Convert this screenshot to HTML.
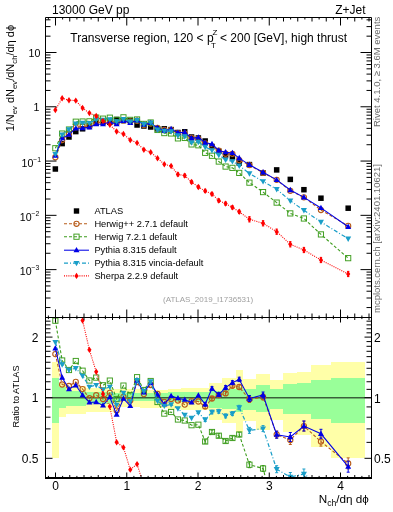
<!DOCTYPE html>
<html><head><meta charset="utf-8"><style>html,body{margin:0;padding:0;background:#fff;width:393px;height:512px;overflow:hidden} svg{will-change:transform}</style></head>
<body><svg width="393" height="512" viewBox="0 0 393 512" style="display:block">
<rect width="393" height="512" fill="#fff"/>
<clipPath id="cr"><rect x="45.5" y="317.5" width="326.0" height="160.0"/></clipPath>
<clipPath id="cm"><rect x="45.5" y="17.5" width="326.0" height="300.0"/></clipPath>
<g shape-rendering="crispEdges"><rect x="51.60" y="362" width="7.49" height="96.40" fill="#ffff99" fill-opacity="0.85"/><rect x="59.10" y="382.8" width="6.47" height="34.60" fill="#ffff99" fill-opacity="0.85"/><rect x="65.56" y="386" width="20.43" height="28.40" fill="#ffff99" fill-opacity="0.85"/><rect x="86.00" y="387.5" width="27.24" height="24.50" fill="#ffff99" fill-opacity="0.85"/><rect x="113.23" y="389.3" width="27.24" height="17.30" fill="#ffff99" fill-opacity="0.85"/><rect x="140.47" y="389.6" width="27.24" height="17.90" fill="#ffff99" fill-opacity="0.85"/><rect x="167.72" y="389" width="13.62" height="20.00" fill="#ffff99" fill-opacity="0.85"/><rect x="181.34" y="388.2" width="13.62" height="21.40" fill="#ffff99" fill-opacity="0.85"/><rect x="194.95" y="387.6" width="13.62" height="22.40" fill="#ffff99" fill-opacity="0.85"/><rect x="208.57" y="382.6" width="13.62" height="37.40" fill="#ffff99" fill-opacity="0.85"/><rect x="222.19" y="378" width="13.62" height="45.00" fill="#ffff99" fill-opacity="0.85"/><rect x="235.81" y="370.4" width="6.81" height="61.60" fill="#ffff99" fill-opacity="0.85"/><rect x="242.62" y="379" width="13.62" height="41.50" fill="#ffff99" fill-opacity="0.85"/><rect x="256.25" y="374" width="13.62" height="55.50" fill="#ffff99" fill-opacity="0.85"/><rect x="269.87" y="379.9" width="13.62" height="40.10" fill="#ffff99" fill-opacity="0.85"/><rect x="283.49" y="373.1" width="13.62" height="59.10" fill="#ffff99" fill-opacity="0.85"/><rect x="297.11" y="371.6" width="13.62" height="63.20" fill="#ffff99" fill-opacity="0.85"/><rect x="310.72" y="365.4" width="20.43" height="82.00" fill="#ffff99" fill-opacity="0.85"/><rect x="331.16" y="362.3" width="34.05" height="95.30" fill="#ffff99" fill-opacity="0.85"/><rect x="51.60" y="377.7" width="7.49" height="45.10" fill="#99ff99"/><rect x="59.10" y="386.5" width="6.47" height="21.50" fill="#99ff99"/><rect x="65.56" y="391" width="20.43" height="15.00" fill="#99ff99"/><rect x="86.00" y="391.5" width="27.24" height="12.10" fill="#99ff99"/><rect x="113.23" y="392.8" width="27.24" height="8.60" fill="#99ff99"/><rect x="140.47" y="392.5" width="27.24" height="8.90" fill="#99ff99"/><rect x="167.72" y="392" width="13.62" height="9.50" fill="#99ff99"/><rect x="181.34" y="392" width="13.62" height="9.50" fill="#99ff99"/><rect x="194.95" y="392" width="13.62" height="10.00" fill="#99ff99"/><rect x="208.57" y="391" width="13.62" height="16.80" fill="#99ff99"/><rect x="222.19" y="388.7" width="13.62" height="20.60" fill="#99ff99"/><rect x="235.81" y="387.2" width="6.81" height="25.20" fill="#99ff99"/><rect x="242.62" y="388.8" width="13.62" height="21.20" fill="#99ff99"/><rect x="256.25" y="385.4" width="13.62" height="26.20" fill="#99ff99"/><rect x="269.87" y="388.5" width="13.62" height="20.50" fill="#99ff99"/><rect x="283.49" y="383.9" width="13.62" height="29.70" fill="#99ff99"/><rect x="297.11" y="383.3" width="13.62" height="30.90" fill="#99ff99"/><rect x="310.72" y="380.2" width="20.43" height="39.10" fill="#99ff99"/><rect x="331.16" y="378.3" width="34.05" height="44.30" fill="#99ff99"/></g>
<line x1="45.5" y1="397.7" x2="371.5" y2="397.7" stroke="#000" stroke-opacity="0.62" stroke-width="1.4"/>
<g clip-path="url(#cm)"><rect x="52.60" y="166.25" width="5.5" height="5.5" fill="#000"/><rect x="59.41" y="140.85" width="5.5" height="5.5" fill="#000"/><rect x="66.22" y="134.25" width="5.5" height="5.5" fill="#000"/><rect x="73.03" y="128.85" width="5.5" height="5.5" fill="#000"/><rect x="79.84" y="126.05" width="5.5" height="5.5" fill="#000"/><rect x="86.65" y="123.25" width="5.5" height="5.5" fill="#000"/><rect x="93.46" y="120.25" width="5.5" height="5.5" fill="#000"/><rect x="100.27" y="119.25" width="5.5" height="5.5" fill="#000"/><rect x="107.08" y="119.55" width="5.5" height="5.5" fill="#000"/><rect x="113.89" y="116.75" width="5.5" height="5.5" fill="#000"/><rect x="120.70" y="117.85" width="5.5" height="5.5" fill="#000"/><rect x="127.51" y="117.85" width="5.5" height="5.5" fill="#000"/><rect x="134.32" y="122.25" width="5.5" height="5.5" fill="#000"/><rect x="141.13" y="123.25" width="5.5" height="5.5" fill="#000"/><rect x="147.94" y="124.25" width="5.5" height="5.5" fill="#000"/><rect x="154.75" y="126.05" width="5.5" height="5.5" fill="#000"/><rect x="161.56" y="126.05" width="5.5" height="5.5" fill="#000"/><rect x="168.37" y="126.85" width="5.5" height="5.5" fill="#000"/><rect x="175.18" y="129.75" width="5.5" height="5.5" fill="#000"/><rect x="181.99" y="129.05" width="5.5" height="5.5" fill="#000"/><rect x="188.80" y="134.25" width="5.5" height="5.5" fill="#000"/><rect x="195.61" y="135.25" width="5.5" height="5.5" fill="#000"/><rect x="202.42" y="138.25" width="5.5" height="5.5" fill="#000"/><rect x="209.23" y="143.75" width="5.5" height="5.5" fill="#000"/><rect x="216.04" y="148.55" width="5.5" height="5.5" fill="#000"/><rect x="222.85" y="152.15" width="5.5" height="5.5" fill="#000"/><rect x="229.66" y="154.25" width="5.5" height="5.5" fill="#000"/><rect x="236.47" y="160.25" width="5.5" height="5.5" fill="#000"/><rect x="246.68" y="161.85" width="5.5" height="5.5" fill="#000"/><rect x="260.31" y="170.25" width="5.5" height="5.5" fill="#000"/><rect x="273.93" y="167.15" width="5.5" height="5.5" fill="#000"/><rect x="287.55" y="176.65" width="5.5" height="5.5" fill="#000"/><rect x="301.17" y="186.95" width="5.5" height="5.5" fill="#000"/><rect x="318.19" y="195.45" width="5.5" height="5.5" fill="#000"/><rect x="345.43" y="205.45" width="5.5" height="5.5" fill="#000"/><polyline points="55.35,157.25 62.16,140.04 68.97,133.85 75.78,127.34 82.59,126.48 89.40,126.13 96.21,122.33 103.02,122.35 109.83,120.98 116.64,122.95 123.45,120.41 130.26,121.35 137.07,120.77 143.88,125.03 150.69,123.58 157.50,127.78 164.31,129.96 171.12,129.92 177.93,133.25 184.74,133.66 191.55,137.94 198.36,139.02 205.17,143.40 211.98,146.72 218.79,150.57 225.60,153.74 232.41,153.79 239.22,160.12 249.43,165.09 263.06,172.81 276.68,179.85 290.30,190.80 303.92,197.36 320.94,210.04 348.18,225.91" fill="none" stroke="#b85c1a" stroke-width="1.1" stroke-dasharray="3,2"/><circle cx="55.35" cy="157.25" r="2.6" fill="none" stroke="#b85c1a" stroke-width="1.1"/><circle cx="62.16" cy="140.04" r="2.6" fill="none" stroke="#b85c1a" stroke-width="1.1"/><circle cx="68.97" cy="133.85" r="2.6" fill="none" stroke="#b85c1a" stroke-width="1.1"/><circle cx="75.78" cy="127.34" r="2.6" fill="none" stroke="#b85c1a" stroke-width="1.1"/><circle cx="82.59" cy="126.48" r="2.6" fill="none" stroke="#b85c1a" stroke-width="1.1"/><circle cx="89.40" cy="126.13" r="2.6" fill="none" stroke="#b85c1a" stroke-width="1.1"/><circle cx="96.21" cy="122.33" r="2.6" fill="none" stroke="#b85c1a" stroke-width="1.1"/><circle cx="103.02" cy="122.35" r="2.6" fill="none" stroke="#b85c1a" stroke-width="1.1"/><circle cx="109.83" cy="120.98" r="2.6" fill="none" stroke="#b85c1a" stroke-width="1.1"/><circle cx="116.64" cy="122.95" r="2.6" fill="none" stroke="#b85c1a" stroke-width="1.1"/><circle cx="123.45" cy="120.41" r="2.6" fill="none" stroke="#b85c1a" stroke-width="1.1"/><circle cx="130.26" cy="121.35" r="2.6" fill="none" stroke="#b85c1a" stroke-width="1.1"/><circle cx="137.07" cy="120.77" r="2.6" fill="none" stroke="#b85c1a" stroke-width="1.1"/><circle cx="143.88" cy="125.03" r="2.6" fill="none" stroke="#b85c1a" stroke-width="1.1"/><circle cx="150.69" cy="123.58" r="2.6" fill="none" stroke="#b85c1a" stroke-width="1.1"/><circle cx="157.50" cy="127.78" r="2.6" fill="none" stroke="#b85c1a" stroke-width="1.1"/><circle cx="164.31" cy="129.96" r="2.6" fill="none" stroke="#b85c1a" stroke-width="1.1"/><circle cx="171.12" cy="129.92" r="2.6" fill="none" stroke="#b85c1a" stroke-width="1.1"/><circle cx="177.93" cy="133.25" r="2.6" fill="none" stroke="#b85c1a" stroke-width="1.1"/><circle cx="184.74" cy="133.66" r="2.6" fill="none" stroke="#b85c1a" stroke-width="1.1"/><circle cx="191.55" cy="137.94" r="2.6" fill="none" stroke="#b85c1a" stroke-width="1.1"/><circle cx="198.36" cy="139.02" r="2.6" fill="none" stroke="#b85c1a" stroke-width="1.1"/><circle cx="205.17" cy="143.40" r="2.6" fill="none" stroke="#b85c1a" stroke-width="1.1"/><circle cx="211.98" cy="146.72" r="2.6" fill="none" stroke="#b85c1a" stroke-width="1.1"/><circle cx="218.79" cy="150.57" r="2.6" fill="none" stroke="#b85c1a" stroke-width="1.1"/><circle cx="225.60" cy="153.74" r="2.6" fill="none" stroke="#b85c1a" stroke-width="1.1"/><circle cx="232.41" cy="153.79" r="2.6" fill="none" stroke="#b85c1a" stroke-width="1.1"/><circle cx="239.22" cy="160.12" r="2.6" fill="none" stroke="#b85c1a" stroke-width="1.1"/><circle cx="249.43" cy="165.09" r="2.6" fill="none" stroke="#b85c1a" stroke-width="1.1"/><circle cx="263.06" cy="172.81" r="2.6" fill="none" stroke="#b85c1a" stroke-width="1.1"/><circle cx="276.68" cy="179.85" r="2.6" fill="none" stroke="#b85c1a" stroke-width="1.1"/><circle cx="290.30" cy="190.80" r="2.6" fill="none" stroke="#b85c1a" stroke-width="1.1"/><circle cx="303.92" cy="197.36" r="2.6" fill="none" stroke="#b85c1a" stroke-width="1.1"/><circle cx="320.94" cy="210.04" r="2.6" fill="none" stroke="#b85c1a" stroke-width="1.1"/><circle cx="348.18" cy="225.91" r="2.6" fill="none" stroke="#b85c1a" stroke-width="1.1"/><polyline points="55.35,148.24 62.16,133.57 68.97,129.53 75.78,121.71 82.59,121.52 89.40,121.36 96.21,117.58 103.02,118.66 109.83,117.69 116.64,119.85 123.45,117.34 130.26,119.87 137.07,119.47 143.88,123.92 150.69,122.50 157.50,129.96 164.31,133.09 171.12,133.46 177.93,138.38 184.74,137.95 191.55,144.41 198.36,145.28 205.17,152.81 211.98,155.75 218.79,161.54 225.60,166.57 232.41,167.86 239.22,172.92 249.43,182.66 263.06,192.09 276.68,202.60 290.30,213.40 303.92,218.49 320.94,234.41 348.18,258.16" fill="none" stroke="#3c9c1c" stroke-width="1.1" stroke-dasharray="3,2"/><rect x="52.75" y="145.64" width="5.2" height="5.2" fill="none" stroke="#3c9c1c" stroke-width="0.95"/><rect x="59.56" y="130.97" width="5.2" height="5.2" fill="none" stroke="#3c9c1c" stroke-width="0.95"/><rect x="66.37" y="126.93" width="5.2" height="5.2" fill="none" stroke="#3c9c1c" stroke-width="0.95"/><rect x="73.18" y="119.11" width="5.2" height="5.2" fill="none" stroke="#3c9c1c" stroke-width="0.95"/><rect x="79.99" y="118.92" width="5.2" height="5.2" fill="none" stroke="#3c9c1c" stroke-width="0.95"/><rect x="86.80" y="118.76" width="5.2" height="5.2" fill="none" stroke="#3c9c1c" stroke-width="0.95"/><rect x="93.61" y="114.98" width="5.2" height="5.2" fill="none" stroke="#3c9c1c" stroke-width="0.95"/><rect x="100.42" y="116.06" width="5.2" height="5.2" fill="none" stroke="#3c9c1c" stroke-width="0.95"/><rect x="107.23" y="115.09" width="5.2" height="5.2" fill="none" stroke="#3c9c1c" stroke-width="0.95"/><rect x="114.04" y="117.25" width="5.2" height="5.2" fill="none" stroke="#3c9c1c" stroke-width="0.95"/><rect x="120.85" y="114.74" width="5.2" height="5.2" fill="none" stroke="#3c9c1c" stroke-width="0.95"/><rect x="127.66" y="117.27" width="5.2" height="5.2" fill="none" stroke="#3c9c1c" stroke-width="0.95"/><rect x="134.47" y="116.87" width="5.2" height="5.2" fill="none" stroke="#3c9c1c" stroke-width="0.95"/><rect x="141.28" y="121.32" width="5.2" height="5.2" fill="none" stroke="#3c9c1c" stroke-width="0.95"/><rect x="148.09" y="119.90" width="5.2" height="5.2" fill="none" stroke="#3c9c1c" stroke-width="0.95"/><rect x="154.90" y="127.36" width="5.2" height="5.2" fill="none" stroke="#3c9c1c" stroke-width="0.95"/><rect x="161.71" y="130.49" width="5.2" height="5.2" fill="none" stroke="#3c9c1c" stroke-width="0.95"/><rect x="168.52" y="130.86" width="5.2" height="5.2" fill="none" stroke="#3c9c1c" stroke-width="0.95"/><rect x="175.33" y="135.78" width="5.2" height="5.2" fill="none" stroke="#3c9c1c" stroke-width="0.95"/><rect x="182.14" y="135.35" width="5.2" height="5.2" fill="none" stroke="#3c9c1c" stroke-width="0.95"/><rect x="188.95" y="141.81" width="5.2" height="5.2" fill="none" stroke="#3c9c1c" stroke-width="0.95"/><rect x="195.76" y="142.68" width="5.2" height="5.2" fill="none" stroke="#3c9c1c" stroke-width="0.95"/><rect x="202.57" y="150.21" width="5.2" height="5.2" fill="none" stroke="#3c9c1c" stroke-width="0.95"/><rect x="209.38" y="153.15" width="5.2" height="5.2" fill="none" stroke="#3c9c1c" stroke-width="0.95"/><rect x="216.19" y="158.94" width="5.2" height="5.2" fill="none" stroke="#3c9c1c" stroke-width="0.95"/><rect x="223.00" y="163.97" width="5.2" height="5.2" fill="none" stroke="#3c9c1c" stroke-width="0.95"/><rect x="229.81" y="165.26" width="5.2" height="5.2" fill="none" stroke="#3c9c1c" stroke-width="0.95"/><rect x="236.62" y="170.32" width="5.2" height="5.2" fill="none" stroke="#3c9c1c" stroke-width="0.95"/><rect x="246.83" y="180.06" width="5.2" height="5.2" fill="none" stroke="#3c9c1c" stroke-width="0.95"/><rect x="260.45" y="189.49" width="5.2" height="5.2" fill="none" stroke="#3c9c1c" stroke-width="0.95"/><rect x="274.07" y="200.00" width="5.2" height="5.2" fill="none" stroke="#3c9c1c" stroke-width="0.95"/><rect x="287.69" y="210.80" width="5.2" height="5.2" fill="none" stroke="#3c9c1c" stroke-width="0.95"/><rect x="301.31" y="215.89" width="5.2" height="5.2" fill="none" stroke="#3c9c1c" stroke-width="0.95"/><rect x="318.34" y="231.81" width="5.2" height="5.2" fill="none" stroke="#3c9c1c" stroke-width="0.95"/><rect x="345.58" y="255.56" width="5.2" height="5.2" fill="none" stroke="#3c9c1c" stroke-width="0.95"/><polyline points="55.35,155.68 62.16,138.15 68.97,134.65 75.78,128.26 82.59,128.13 89.40,127.27 96.21,124.16 103.02,124.08 109.83,122.17 116.64,124.06 123.45,120.87 130.26,122.81 137.07,120.39 143.88,124.57 150.69,122.96 157.50,127.96 164.31,130.58 171.12,129.11 177.93,132.63 184.74,132.34 191.55,138.27 198.36,137.38 205.17,142.78 211.98,144.02 218.79,150.49 225.60,152.18 232.41,152.96 239.22,158.07 249.43,164.82 263.06,172.27 276.68,179.88 290.30,190.00 303.92,197.33 320.94,207.93 348.18,226.80" fill="none" stroke="#0000e6" stroke-width="1.05"/><path d="M55.35,152.44L58.35,157.84L52.35,157.84Z" fill="#0000e6"/><path d="M62.16,134.91L65.16,140.31L59.16,140.31Z" fill="#0000e6"/><path d="M68.97,131.41L71.97,136.81L65.97,136.81Z" fill="#0000e6"/><path d="M75.78,125.02L78.78,130.42L72.78,130.42Z" fill="#0000e6"/><path d="M82.59,124.89L85.59,130.29L79.59,130.29Z" fill="#0000e6"/><path d="M89.40,124.03L92.40,129.43L86.40,129.43Z" fill="#0000e6"/><path d="M96.21,120.92L99.21,126.32L93.21,126.32Z" fill="#0000e6"/><path d="M103.02,120.84L106.02,126.24L100.02,126.24Z" fill="#0000e6"/><path d="M109.83,118.93L112.83,124.33L106.83,124.33Z" fill="#0000e6"/><path d="M116.64,120.82L119.64,126.22L113.64,126.22Z" fill="#0000e6"/><path d="M123.45,117.63L126.45,123.03L120.45,123.03Z" fill="#0000e6"/><path d="M130.26,119.57L133.26,124.97L127.26,124.97Z" fill="#0000e6"/><path d="M137.07,117.15L140.07,122.55L134.07,122.55Z" fill="#0000e6"/><path d="M143.88,121.33L146.88,126.73L140.88,126.73Z" fill="#0000e6"/><path d="M150.69,119.72L153.69,125.12L147.69,125.12Z" fill="#0000e6"/><path d="M157.50,124.72L160.50,130.12L154.50,130.12Z" fill="#0000e6"/><path d="M164.31,127.34L167.31,132.74L161.31,132.74Z" fill="#0000e6"/><path d="M171.12,125.87L174.12,131.27L168.12,131.27Z" fill="#0000e6"/><path d="M177.93,129.39L180.93,134.79L174.93,134.79Z" fill="#0000e6"/><path d="M184.74,129.10L187.74,134.50L181.74,134.50Z" fill="#0000e6"/><path d="M191.55,135.03L194.55,140.43L188.55,140.43Z" fill="#0000e6"/><path d="M198.36,134.14L201.36,139.54L195.36,139.54Z" fill="#0000e6"/><path d="M205.17,139.54L208.17,144.94L202.17,144.94Z" fill="#0000e6"/><path d="M211.98,140.78L214.98,146.18L208.98,146.18Z" fill="#0000e6"/><path d="M218.79,147.25L221.79,152.65L215.79,152.65Z" fill="#0000e6"/><path d="M225.60,148.94L228.60,154.34L222.60,154.34Z" fill="#0000e6"/><path d="M232.41,149.72L235.41,155.12L229.41,155.12Z" fill="#0000e6"/><path d="M239.22,154.83L242.22,160.23L236.22,160.23Z" fill="#0000e6"/><path d="M249.43,161.58L252.43,166.98L246.43,166.98Z" fill="#0000e6"/><path d="M263.06,169.03L266.06,174.43L260.06,174.43Z" fill="#0000e6"/><path d="M276.68,176.64L279.68,182.04L273.68,182.04Z" fill="#0000e6"/><path d="M290.30,186.76L293.30,192.16L287.30,192.16Z" fill="#0000e6"/><path d="M303.92,194.09L306.92,199.49L300.92,199.49Z" fill="#0000e6"/><path d="M320.94,204.69L323.94,210.09L317.94,210.09Z" fill="#0000e6"/><path d="M348.18,223.56L351.18,228.96L345.18,228.96Z" fill="#0000e6"/><polyline points="55.35,154.04 62.16,134.62 68.97,129.53 75.78,123.65 82.59,122.90 89.40,123.06 96.21,119.60 103.02,119.84 109.83,119.36 116.64,121.41 123.45,119.28 130.26,121.57 137.07,120.28 143.88,124.19 150.69,122.58 157.50,129.69 164.31,130.98 171.12,131.43 177.93,135.41 184.74,136.46 191.55,142.47 198.36,141.99 205.17,146.93 211.98,150.36 218.79,154.97 225.60,159.81 232.41,161.29 239.22,165.64 249.43,173.42 263.06,181.33 276.68,189.18 290.30,200.78 303.92,210.27 320.94,222.01 348.18,238.75" fill="none" stroke="#1a9ec8" stroke-width="1.2" stroke-dasharray="4,2,1,2"/><path d="M55.35,157.28L58.35,151.88L52.35,151.88Z" fill="#1a9ec8"/><path d="M62.16,137.86L65.16,132.46L59.16,132.46Z" fill="#1a9ec8"/><path d="M68.97,132.77L71.97,127.37L65.97,127.37Z" fill="#1a9ec8"/><path d="M75.78,126.89L78.78,121.49L72.78,121.49Z" fill="#1a9ec8"/><path d="M82.59,126.14L85.59,120.74L79.59,120.74Z" fill="#1a9ec8"/><path d="M89.40,126.30L92.40,120.90L86.40,120.90Z" fill="#1a9ec8"/><path d="M96.21,122.84L99.21,117.44L93.21,117.44Z" fill="#1a9ec8"/><path d="M103.02,123.08L106.02,117.68L100.02,117.68Z" fill="#1a9ec8"/><path d="M109.83,122.60L112.83,117.20L106.83,117.20Z" fill="#1a9ec8"/><path d="M116.64,124.65L119.64,119.25L113.64,119.25Z" fill="#1a9ec8"/><path d="M123.45,122.52L126.45,117.12L120.45,117.12Z" fill="#1a9ec8"/><path d="M130.26,124.81L133.26,119.41L127.26,119.41Z" fill="#1a9ec8"/><path d="M137.07,123.52L140.07,118.12L134.07,118.12Z" fill="#1a9ec8"/><path d="M143.88,127.43L146.88,122.03L140.88,122.03Z" fill="#1a9ec8"/><path d="M150.69,125.82L153.69,120.42L147.69,120.42Z" fill="#1a9ec8"/><path d="M157.50,132.93L160.50,127.53L154.50,127.53Z" fill="#1a9ec8"/><path d="M164.31,134.22L167.31,128.82L161.31,128.82Z" fill="#1a9ec8"/><path d="M171.12,134.67L174.12,129.27L168.12,129.27Z" fill="#1a9ec8"/><path d="M177.93,138.65L180.93,133.25L174.93,133.25Z" fill="#1a9ec8"/><path d="M184.74,139.70L187.74,134.30L181.74,134.30Z" fill="#1a9ec8"/><path d="M191.55,145.71L194.55,140.31L188.55,140.31Z" fill="#1a9ec8"/><path d="M198.36,145.23L201.36,139.83L195.36,139.83Z" fill="#1a9ec8"/><path d="M205.17,150.17L208.17,144.77L202.17,144.77Z" fill="#1a9ec8"/><path d="M211.98,153.60L214.98,148.20L208.98,148.20Z" fill="#1a9ec8"/><path d="M218.79,158.21L221.79,152.81L215.79,152.81Z" fill="#1a9ec8"/><path d="M225.60,163.05L228.60,157.65L222.60,157.65Z" fill="#1a9ec8"/><path d="M232.41,164.53L235.41,159.13L229.41,159.13Z" fill="#1a9ec8"/><path d="M239.22,168.88L242.22,163.48L236.22,163.48Z" fill="#1a9ec8"/><path d="M249.43,176.66L252.43,171.26L246.43,171.26Z" fill="#1a9ec8"/><path d="M263.06,184.57L266.06,179.17L260.06,179.17Z" fill="#1a9ec8"/><path d="M276.68,192.42L279.68,187.02L273.68,187.02Z" fill="#1a9ec8"/><path d="M290.30,204.02L293.30,198.62L287.30,198.62Z" fill="#1a9ec8"/><path d="M303.92,213.51L306.92,208.11L300.92,208.11Z" fill="#1a9ec8"/><path d="M320.94,225.25L323.94,219.85L317.94,219.85Z" fill="#1a9ec8"/><path d="M348.18,241.99L351.18,236.59L345.18,236.59Z" fill="#1a9ec8"/><polyline points="55.35,110.00 62.16,98.30 68.97,100.20 75.78,100.60 82.59,108.00 89.40,113.10 96.21,116.00 103.02,121.00 109.83,124.70 116.64,131.50 123.45,134.00 130.26,140.00 137.07,142.90 143.88,149.70 150.69,152.20 157.50,158.30 164.31,164.20 171.12,166.00 177.93,174.40 184.74,175.60 191.55,182.00 198.36,187.00 205.17,190.90 211.98,194.00 218.79,200.60 225.60,203.60 232.41,207.40 239.22,211.80 249.43,219.30 263.06,223.30 276.68,231.70 290.30,244.30 303.92,250.00 320.94,260.00 348.18,274.00" fill="none" stroke="#ff0000" stroke-width="1.1" stroke-dasharray="1,1.2"/><path d="M177.93,172.80V176.00M176.73,172.80h2.4M176.73,176.00h2.4" stroke="#ff0000" stroke-width="1" fill="none"/><path d="M184.74,174.00V177.20M183.54,174.00h2.4M183.54,177.20h2.4" stroke="#ff0000" stroke-width="1" fill="none"/><path d="M191.55,180.40V183.60M190.35,180.40h2.4M190.35,183.60h2.4" stroke="#ff0000" stroke-width="1" fill="none"/><path d="M198.36,185.40V188.60M197.16,185.40h2.4M197.16,188.60h2.4" stroke="#ff0000" stroke-width="1" fill="none"/><path d="M205.17,189.30V192.50M203.97,189.30h2.4M203.97,192.50h2.4" stroke="#ff0000" stroke-width="1" fill="none"/><path d="M211.98,192.40V195.60M210.78,192.40h2.4M210.78,195.60h2.4" stroke="#ff0000" stroke-width="1" fill="none"/><path d="M218.79,199.00V202.20M217.59,199.00h2.4M217.59,202.20h2.4" stroke="#ff0000" stroke-width="1" fill="none"/><path d="M225.60,202.00V205.20M224.40,202.00h2.4M224.40,205.20h2.4" stroke="#ff0000" stroke-width="1" fill="none"/><path d="M232.41,205.80V209.00M231.21,205.80h2.4M231.21,209.00h2.4" stroke="#ff0000" stroke-width="1" fill="none"/><path d="M239.22,210.20V213.40M238.02,210.20h2.4M238.02,213.40h2.4" stroke="#ff0000" stroke-width="1" fill="none"/><path d="M249.43,216.70V221.90M248.23,216.70h2.4M248.23,221.90h2.4" stroke="#ff0000" stroke-width="1" fill="none"/><path d="M263.06,220.70V225.90M261.86,220.70h2.4M261.86,225.90h2.4" stroke="#ff0000" stroke-width="1" fill="none"/><path d="M276.68,229.10V234.30M275.48,229.10h2.4M275.48,234.30h2.4" stroke="#ff0000" stroke-width="1" fill="none"/><path d="M290.30,241.70V246.90M289.10,241.70h2.4M289.10,246.90h2.4" stroke="#ff0000" stroke-width="1" fill="none"/><path d="M303.92,247.40V252.60M302.72,247.40h2.4M302.72,252.60h2.4" stroke="#ff0000" stroke-width="1" fill="none"/><path d="M320.94,257.40V262.60M319.74,257.40h2.4M319.74,262.60h2.4" stroke="#ff0000" stroke-width="1" fill="none"/><path d="M348.18,271.40V276.60M346.98,271.40h2.4M346.98,276.60h2.4" stroke="#ff0000" stroke-width="1" fill="none"/><path d="M55.35,106.80L57.45,110.00L55.35,113.20L53.25,110.00Z" fill="#ff0000"/><path d="M62.16,95.10L64.26,98.30L62.16,101.50L60.06,98.30Z" fill="#ff0000"/><path d="M68.97,97.00L71.07,100.20L68.97,103.40L66.87,100.20Z" fill="#ff0000"/><path d="M75.78,97.40L77.88,100.60L75.78,103.80L73.68,100.60Z" fill="#ff0000"/><path d="M82.59,104.80L84.69,108.00L82.59,111.20L80.49,108.00Z" fill="#ff0000"/><path d="M89.40,109.90L91.50,113.10L89.40,116.30L87.30,113.10Z" fill="#ff0000"/><path d="M96.21,112.80L98.31,116.00L96.21,119.20L94.11,116.00Z" fill="#ff0000"/><path d="M103.02,117.80L105.12,121.00L103.02,124.20L100.92,121.00Z" fill="#ff0000"/><path d="M109.83,121.50L111.93,124.70L109.83,127.90L107.73,124.70Z" fill="#ff0000"/><path d="M116.64,128.30L118.74,131.50L116.64,134.70L114.54,131.50Z" fill="#ff0000"/><path d="M123.45,130.80L125.55,134.00L123.45,137.20L121.35,134.00Z" fill="#ff0000"/><path d="M130.26,136.80L132.36,140.00L130.26,143.20L128.16,140.00Z" fill="#ff0000"/><path d="M137.07,139.70L139.17,142.90L137.07,146.10L134.97,142.90Z" fill="#ff0000"/><path d="M143.88,146.50L145.98,149.70L143.88,152.90L141.78,149.70Z" fill="#ff0000"/><path d="M150.69,149.00L152.79,152.20L150.69,155.40L148.59,152.20Z" fill="#ff0000"/><path d="M157.50,155.10L159.60,158.30L157.50,161.50L155.40,158.30Z" fill="#ff0000"/><path d="M164.31,161.00L166.41,164.20L164.31,167.40L162.21,164.20Z" fill="#ff0000"/><path d="M171.12,162.80L173.22,166.00L171.12,169.20L169.02,166.00Z" fill="#ff0000"/><path d="M177.93,171.20L180.03,174.40L177.93,177.60L175.83,174.40Z" fill="#ff0000"/><path d="M184.74,172.40L186.84,175.60L184.74,178.80L182.64,175.60Z" fill="#ff0000"/><path d="M191.55,178.80L193.65,182.00L191.55,185.20L189.45,182.00Z" fill="#ff0000"/><path d="M198.36,183.80L200.46,187.00L198.36,190.20L196.26,187.00Z" fill="#ff0000"/><path d="M205.17,187.70L207.27,190.90L205.17,194.10L203.07,190.90Z" fill="#ff0000"/><path d="M211.98,190.80L214.08,194.00L211.98,197.20L209.88,194.00Z" fill="#ff0000"/><path d="M218.79,197.40L220.89,200.60L218.79,203.80L216.69,200.60Z" fill="#ff0000"/><path d="M225.60,200.40L227.70,203.60L225.60,206.80L223.50,203.60Z" fill="#ff0000"/><path d="M232.41,204.20L234.51,207.40L232.41,210.60L230.31,207.40Z" fill="#ff0000"/><path d="M239.22,208.60L241.32,211.80L239.22,215.00L237.12,211.80Z" fill="#ff0000"/><path d="M249.43,216.10L251.53,219.30L249.43,222.50L247.33,219.30Z" fill="#ff0000"/><path d="M263.06,220.10L265.16,223.30L263.06,226.50L260.95,223.30Z" fill="#ff0000"/><path d="M276.68,228.50L278.78,231.70L276.68,234.90L274.57,231.70Z" fill="#ff0000"/><path d="M290.30,241.10L292.40,244.30L290.30,247.50L288.19,244.30Z" fill="#ff0000"/><path d="M303.92,246.80L306.02,250.00L303.92,253.20L301.81,250.00Z" fill="#ff0000"/><path d="M320.94,256.80L323.04,260.00L320.94,263.20L318.84,260.00Z" fill="#ff0000"/><path d="M348.18,270.80L350.28,274.00L348.18,277.20L346.08,274.00Z" fill="#ff0000"/></g>
<g clip-path="url(#cr)"><polyline points="55.35,354.10 62.16,384.50 68.97,386.00 75.78,381.90 82.59,389.10 89.40,398.20 96.21,395.20 103.02,399.00 109.83,392.80 116.64,410.50 123.45,397.00 130.26,400.50 137.07,382.00 143.88,394.10 150.69,385.00 157.50,393.90 164.31,402.00 171.12,398.90 177.93,400.50 184.74,404.60 191.55,401.20 198.36,401.50 205.17,406.60 211.98,398.50 218.79,395.00 225.60,393.40 232.41,385.80 239.22,387.00 249.43,399.50 263.06,397.00 276.68,434.60 290.30,440.00 303.92,426.10 320.94,441.60 348.18,463.40" fill="none" stroke="#b85c1a" stroke-width="1.1" stroke-dasharray="3,2"/><path d="M205.17,404.80V408.40M203.67,404.80h3M203.67,408.40h3" stroke="#b85c1a" stroke-width="1" fill="none"/><path d="M211.98,396.70V400.30M210.48,396.70h3M210.48,400.30h3" stroke="#b85c1a" stroke-width="1" fill="none"/><path d="M218.79,393.00V397.00M217.29,393.00h3M217.29,397.00h3" stroke="#b85c1a" stroke-width="1" fill="none"/><path d="M225.60,391.40V395.40M224.10,391.40h3M224.10,395.40h3" stroke="#b85c1a" stroke-width="1" fill="none"/><path d="M232.41,383.80V387.80M230.91,383.80h3M230.91,387.80h3" stroke="#b85c1a" stroke-width="1" fill="none"/><path d="M239.22,384.80V389.20M237.72,384.80h3M237.72,389.20h3" stroke="#b85c1a" stroke-width="1" fill="none"/><path d="M249.43,396.50V402.50M247.93,396.50h3M247.93,402.50h3" stroke="#b85c1a" stroke-width="1" fill="none"/><path d="M263.06,394.00V400.00M261.56,394.00h3M261.56,400.00h3" stroke="#b85c1a" stroke-width="1" fill="none"/><path d="M276.68,431.10V438.10M275.18,431.10h3M275.18,438.10h3" stroke="#b85c1a" stroke-width="1" fill="none"/><path d="M290.30,435.50V444.50M288.80,435.50h3M288.80,444.50h3" stroke="#b85c1a" stroke-width="1" fill="none"/><path d="M303.92,421.10V431.10M302.42,421.10h3M302.42,431.10h3" stroke="#b85c1a" stroke-width="1" fill="none"/><path d="M320.94,437.10V446.10M319.44,437.10h3M319.44,446.10h3" stroke="#b85c1a" stroke-width="1" fill="none"/><path d="M348.18,457.90V468.90M346.68,457.90h3M346.68,468.90h3" stroke="#b85c1a" stroke-width="1" fill="none"/><circle cx="55.35" cy="354.10" r="2.6" fill="none" stroke="#b85c1a" stroke-width="1.1"/><circle cx="62.16" cy="384.50" r="2.6" fill="none" stroke="#b85c1a" stroke-width="1.1"/><circle cx="68.97" cy="386.00" r="2.6" fill="none" stroke="#b85c1a" stroke-width="1.1"/><circle cx="75.78" cy="381.90" r="2.6" fill="none" stroke="#b85c1a" stroke-width="1.1"/><circle cx="82.59" cy="389.10" r="2.6" fill="none" stroke="#b85c1a" stroke-width="1.1"/><circle cx="89.40" cy="398.20" r="2.6" fill="none" stroke="#b85c1a" stroke-width="1.1"/><circle cx="96.21" cy="395.20" r="2.6" fill="none" stroke="#b85c1a" stroke-width="1.1"/><circle cx="103.02" cy="399.00" r="2.6" fill="none" stroke="#b85c1a" stroke-width="1.1"/><circle cx="109.83" cy="392.80" r="2.6" fill="none" stroke="#b85c1a" stroke-width="1.1"/><circle cx="116.64" cy="410.50" r="2.6" fill="none" stroke="#b85c1a" stroke-width="1.1"/><circle cx="123.45" cy="397.00" r="2.6" fill="none" stroke="#b85c1a" stroke-width="1.1"/><circle cx="130.26" cy="400.50" r="2.6" fill="none" stroke="#b85c1a" stroke-width="1.1"/><circle cx="137.07" cy="382.00" r="2.6" fill="none" stroke="#b85c1a" stroke-width="1.1"/><circle cx="143.88" cy="394.10" r="2.6" fill="none" stroke="#b85c1a" stroke-width="1.1"/><circle cx="150.69" cy="385.00" r="2.6" fill="none" stroke="#b85c1a" stroke-width="1.1"/><circle cx="157.50" cy="393.90" r="2.6" fill="none" stroke="#b85c1a" stroke-width="1.1"/><circle cx="164.31" cy="402.00" r="2.6" fill="none" stroke="#b85c1a" stroke-width="1.1"/><circle cx="171.12" cy="398.90" r="2.6" fill="none" stroke="#b85c1a" stroke-width="1.1"/><circle cx="177.93" cy="400.50" r="2.6" fill="none" stroke="#b85c1a" stroke-width="1.1"/><circle cx="184.74" cy="404.60" r="2.6" fill="none" stroke="#b85c1a" stroke-width="1.1"/><circle cx="191.55" cy="401.20" r="2.6" fill="none" stroke="#b85c1a" stroke-width="1.1"/><circle cx="198.36" cy="401.50" r="2.6" fill="none" stroke="#b85c1a" stroke-width="1.1"/><circle cx="205.17" cy="406.60" r="2.6" fill="none" stroke="#b85c1a" stroke-width="1.1"/><circle cx="211.98" cy="398.50" r="2.6" fill="none" stroke="#b85c1a" stroke-width="1.1"/><circle cx="218.79" cy="395.00" r="2.6" fill="none" stroke="#b85c1a" stroke-width="1.1"/><circle cx="225.60" cy="393.40" r="2.6" fill="none" stroke="#b85c1a" stroke-width="1.1"/><circle cx="232.41" cy="385.80" r="2.6" fill="none" stroke="#b85c1a" stroke-width="1.1"/><circle cx="239.22" cy="387.00" r="2.6" fill="none" stroke="#b85c1a" stroke-width="1.1"/><circle cx="249.43" cy="399.50" r="2.6" fill="none" stroke="#b85c1a" stroke-width="1.1"/><circle cx="263.06" cy="397.00" r="2.6" fill="none" stroke="#b85c1a" stroke-width="1.1"/><circle cx="276.68" cy="434.60" r="2.6" fill="none" stroke="#b85c1a" stroke-width="1.1"/><circle cx="290.30" cy="440.00" r="2.6" fill="none" stroke="#b85c1a" stroke-width="1.1"/><circle cx="303.92" cy="426.10" r="2.6" fill="none" stroke="#b85c1a" stroke-width="1.1"/><circle cx="320.94" cy="441.60" r="2.6" fill="none" stroke="#b85c1a" stroke-width="1.1"/><circle cx="348.18" cy="463.40" r="2.6" fill="none" stroke="#b85c1a" stroke-width="1.1"/><polyline points="55.35,320.70 62.16,360.50 68.97,370.00 75.78,361.00 82.59,370.70 89.40,380.50 96.21,377.60 103.02,385.30 109.83,380.60 116.64,399.00 123.45,385.60 130.26,395.00 137.07,377.20 143.88,390.00 150.69,381.00 157.50,402.00 164.31,413.60 171.12,412.00 177.93,419.50 184.74,420.50 191.55,425.20 198.36,424.70 205.17,441.50 211.98,432.00 218.79,435.70 225.60,441.00 232.41,438.00 239.22,434.50 249.43,464.70 263.06,468.50 276.68,519.00 290.30,523.80 303.92,504.50 320.94,532.00 348.18,583.00" fill="none" stroke="#3c9c1c" stroke-width="1.1" stroke-dasharray="3,2"/><path d="M205.17,439.70V443.30M203.67,439.70h3M203.67,443.30h3" stroke="#3c9c1c" stroke-width="1" fill="none"/><path d="M211.98,430.20V433.80M210.48,430.20h3M210.48,433.80h3" stroke="#3c9c1c" stroke-width="1" fill="none"/><path d="M218.79,433.70V437.70M217.29,433.70h3M217.29,437.70h3" stroke="#3c9c1c" stroke-width="1" fill="none"/><path d="M225.60,439.00V443.00M224.10,439.00h3M224.10,443.00h3" stroke="#3c9c1c" stroke-width="1" fill="none"/><path d="M232.41,436.00V440.00M230.91,436.00h3M230.91,440.00h3" stroke="#3c9c1c" stroke-width="1" fill="none"/><path d="M239.22,432.30V436.70M237.72,432.30h3M237.72,436.70h3" stroke="#3c9c1c" stroke-width="1" fill="none"/><path d="M249.43,461.70V467.70M247.93,461.70h3M247.93,467.70h3" stroke="#3c9c1c" stroke-width="1" fill="none"/><path d="M263.06,465.50V471.50M261.56,465.50h3M261.56,471.50h3" stroke="#3c9c1c" stroke-width="1" fill="none"/><path d="M276.68,515.50V522.50M275.18,515.50h3M275.18,522.50h3" stroke="#3c9c1c" stroke-width="1" fill="none"/><path d="M290.30,519.30V528.30M288.80,519.30h3M288.80,528.30h3" stroke="#3c9c1c" stroke-width="1" fill="none"/><path d="M303.92,499.50V509.50M302.42,499.50h3M302.42,509.50h3" stroke="#3c9c1c" stroke-width="1" fill="none"/><path d="M320.94,527.50V536.50M319.44,527.50h3M319.44,536.50h3" stroke="#3c9c1c" stroke-width="1" fill="none"/><path d="M348.18,577.50V588.50M346.68,577.50h3M346.68,588.50h3" stroke="#3c9c1c" stroke-width="1" fill="none"/><rect x="52.75" y="318.10" width="5.2" height="5.2" fill="none" stroke="#3c9c1c" stroke-width="0.95"/><rect x="59.56" y="357.90" width="5.2" height="5.2" fill="none" stroke="#3c9c1c" stroke-width="0.95"/><rect x="66.37" y="367.40" width="5.2" height="5.2" fill="none" stroke="#3c9c1c" stroke-width="0.95"/><rect x="73.18" y="358.40" width="5.2" height="5.2" fill="none" stroke="#3c9c1c" stroke-width="0.95"/><rect x="79.99" y="368.10" width="5.2" height="5.2" fill="none" stroke="#3c9c1c" stroke-width="0.95"/><rect x="86.80" y="377.90" width="5.2" height="5.2" fill="none" stroke="#3c9c1c" stroke-width="0.95"/><rect x="93.61" y="375.00" width="5.2" height="5.2" fill="none" stroke="#3c9c1c" stroke-width="0.95"/><rect x="100.42" y="382.70" width="5.2" height="5.2" fill="none" stroke="#3c9c1c" stroke-width="0.95"/><rect x="107.23" y="378.00" width="5.2" height="5.2" fill="none" stroke="#3c9c1c" stroke-width="0.95"/><rect x="114.04" y="396.40" width="5.2" height="5.2" fill="none" stroke="#3c9c1c" stroke-width="0.95"/><rect x="120.85" y="383.00" width="5.2" height="5.2" fill="none" stroke="#3c9c1c" stroke-width="0.95"/><rect x="127.66" y="392.40" width="5.2" height="5.2" fill="none" stroke="#3c9c1c" stroke-width="0.95"/><rect x="134.47" y="374.60" width="5.2" height="5.2" fill="none" stroke="#3c9c1c" stroke-width="0.95"/><rect x="141.28" y="387.40" width="5.2" height="5.2" fill="none" stroke="#3c9c1c" stroke-width="0.95"/><rect x="148.09" y="378.40" width="5.2" height="5.2" fill="none" stroke="#3c9c1c" stroke-width="0.95"/><rect x="154.90" y="399.40" width="5.2" height="5.2" fill="none" stroke="#3c9c1c" stroke-width="0.95"/><rect x="161.71" y="411.00" width="5.2" height="5.2" fill="none" stroke="#3c9c1c" stroke-width="0.95"/><rect x="168.52" y="409.40" width="5.2" height="5.2" fill="none" stroke="#3c9c1c" stroke-width="0.95"/><rect x="175.33" y="416.90" width="5.2" height="5.2" fill="none" stroke="#3c9c1c" stroke-width="0.95"/><rect x="182.14" y="417.90" width="5.2" height="5.2" fill="none" stroke="#3c9c1c" stroke-width="0.95"/><rect x="188.95" y="422.60" width="5.2" height="5.2" fill="none" stroke="#3c9c1c" stroke-width="0.95"/><rect x="195.76" y="422.10" width="5.2" height="5.2" fill="none" stroke="#3c9c1c" stroke-width="0.95"/><rect x="202.57" y="438.90" width="5.2" height="5.2" fill="none" stroke="#3c9c1c" stroke-width="0.95"/><rect x="209.38" y="429.40" width="5.2" height="5.2" fill="none" stroke="#3c9c1c" stroke-width="0.95"/><rect x="216.19" y="433.10" width="5.2" height="5.2" fill="none" stroke="#3c9c1c" stroke-width="0.95"/><rect x="223.00" y="438.40" width="5.2" height="5.2" fill="none" stroke="#3c9c1c" stroke-width="0.95"/><rect x="229.81" y="435.40" width="5.2" height="5.2" fill="none" stroke="#3c9c1c" stroke-width="0.95"/><rect x="236.62" y="431.90" width="5.2" height="5.2" fill="none" stroke="#3c9c1c" stroke-width="0.95"/><rect x="246.83" y="462.10" width="5.2" height="5.2" fill="none" stroke="#3c9c1c" stroke-width="0.95"/><rect x="260.45" y="465.90" width="5.2" height="5.2" fill="none" stroke="#3c9c1c" stroke-width="0.95"/><polyline points="55.35,348.30 62.16,377.50 68.97,389.00 75.78,385.30 82.59,395.20 89.40,402.40 96.21,402.00 103.02,405.40 109.83,397.20 116.64,414.60 123.45,398.70 130.26,405.90 137.07,380.60 143.88,392.40 150.69,382.70 157.50,394.60 164.31,404.30 171.12,395.90 177.93,398.20 184.74,399.70 191.55,402.40 198.36,395.40 205.17,404.30 211.98,388.50 218.79,394.70 225.60,387.60 232.41,382.70 239.22,379.40 249.43,398.50 263.06,395.00 276.68,434.70 290.30,437.00 303.92,426.00 320.94,433.80 348.18,466.70" fill="none" stroke="#0000e6" stroke-width="1.05"/><path d="M205.17,402.50V406.10M203.67,402.50h3M203.67,406.10h3" stroke="#0000e6" stroke-width="1" fill="none"/><path d="M211.98,386.70V390.30M210.48,386.70h3M210.48,390.30h3" stroke="#0000e6" stroke-width="1" fill="none"/><path d="M218.79,392.70V396.70M217.29,392.70h3M217.29,396.70h3" stroke="#0000e6" stroke-width="1" fill="none"/><path d="M225.60,385.60V389.60M224.10,385.60h3M224.10,389.60h3" stroke="#0000e6" stroke-width="1" fill="none"/><path d="M232.41,380.70V384.70M230.91,380.70h3M230.91,384.70h3" stroke="#0000e6" stroke-width="1" fill="none"/><path d="M239.22,377.20V381.60M237.72,377.20h3M237.72,381.60h3" stroke="#0000e6" stroke-width="1" fill="none"/><path d="M249.43,395.50V401.50M247.93,395.50h3M247.93,401.50h3" stroke="#0000e6" stroke-width="1" fill="none"/><path d="M263.06,392.00V398.00M261.56,392.00h3M261.56,398.00h3" stroke="#0000e6" stroke-width="1" fill="none"/><path d="M276.68,431.20V438.20M275.18,431.20h3M275.18,438.20h3" stroke="#0000e6" stroke-width="1" fill="none"/><path d="M290.30,432.50V441.50M288.80,432.50h3M288.80,441.50h3" stroke="#0000e6" stroke-width="1" fill="none"/><path d="M303.92,421.00V431.00M302.42,421.00h3M302.42,431.00h3" stroke="#0000e6" stroke-width="1" fill="none"/><path d="M320.94,429.30V438.30M319.44,429.30h3M319.44,438.30h3" stroke="#0000e6" stroke-width="1" fill="none"/><path d="M348.18,461.20V472.20M346.68,461.20h3M346.68,472.20h3" stroke="#0000e6" stroke-width="1" fill="none"/><path d="M55.35,345.06L58.35,350.46L52.35,350.46Z" fill="#0000e6"/><path d="M62.16,374.26L65.16,379.66L59.16,379.66Z" fill="#0000e6"/><path d="M68.97,385.76L71.97,391.16L65.97,391.16Z" fill="#0000e6"/><path d="M75.78,382.06L78.78,387.46L72.78,387.46Z" fill="#0000e6"/><path d="M82.59,391.96L85.59,397.36L79.59,397.36Z" fill="#0000e6"/><path d="M89.40,399.16L92.40,404.56L86.40,404.56Z" fill="#0000e6"/><path d="M96.21,398.76L99.21,404.16L93.21,404.16Z" fill="#0000e6"/><path d="M103.02,402.16L106.02,407.56L100.02,407.56Z" fill="#0000e6"/><path d="M109.83,393.96L112.83,399.36L106.83,399.36Z" fill="#0000e6"/><path d="M116.64,411.36L119.64,416.76L113.64,416.76Z" fill="#0000e6"/><path d="M123.45,395.46L126.45,400.86L120.45,400.86Z" fill="#0000e6"/><path d="M130.26,402.66L133.26,408.06L127.26,408.06Z" fill="#0000e6"/><path d="M137.07,377.36L140.07,382.76L134.07,382.76Z" fill="#0000e6"/><path d="M143.88,389.16L146.88,394.56L140.88,394.56Z" fill="#0000e6"/><path d="M150.69,379.46L153.69,384.86L147.69,384.86Z" fill="#0000e6"/><path d="M157.50,391.36L160.50,396.76L154.50,396.76Z" fill="#0000e6"/><path d="M164.31,401.06L167.31,406.46L161.31,406.46Z" fill="#0000e6"/><path d="M171.12,392.66L174.12,398.06L168.12,398.06Z" fill="#0000e6"/><path d="M177.93,394.96L180.93,400.36L174.93,400.36Z" fill="#0000e6"/><path d="M184.74,396.46L187.74,401.86L181.74,401.86Z" fill="#0000e6"/><path d="M191.55,399.16L194.55,404.56L188.55,404.56Z" fill="#0000e6"/><path d="M198.36,392.16L201.36,397.56L195.36,397.56Z" fill="#0000e6"/><path d="M205.17,401.06L208.17,406.46L202.17,406.46Z" fill="#0000e6"/><path d="M211.98,385.26L214.98,390.66L208.98,390.66Z" fill="#0000e6"/><path d="M218.79,391.46L221.79,396.86L215.79,396.86Z" fill="#0000e6"/><path d="M225.60,384.36L228.60,389.76L222.60,389.76Z" fill="#0000e6"/><path d="M232.41,379.46L235.41,384.86L229.41,384.86Z" fill="#0000e6"/><path d="M239.22,376.16L242.22,381.56L236.22,381.56Z" fill="#0000e6"/><path d="M249.43,395.26L252.43,400.66L246.43,400.66Z" fill="#0000e6"/><path d="M263.06,391.76L266.06,397.16L260.06,397.16Z" fill="#0000e6"/><path d="M276.68,431.46L279.68,436.86L273.68,436.86Z" fill="#0000e6"/><path d="M290.30,433.76L293.30,439.16L287.30,439.16Z" fill="#0000e6"/><path d="M303.92,422.76L306.92,428.16L300.92,428.16Z" fill="#0000e6"/><path d="M320.94,430.56L323.94,435.96L317.94,435.96Z" fill="#0000e6"/><path d="M348.18,463.46L351.18,468.86L345.18,468.86Z" fill="#0000e6"/><polyline points="55.35,342.20 62.16,364.40 68.97,370.00 75.78,368.20 82.59,375.80 89.40,386.80 96.21,385.10 103.02,389.70 109.83,386.80 116.64,404.80 123.45,392.80 130.26,401.30 137.07,380.20 143.88,391.00 150.69,381.30 157.50,401.00 164.31,405.80 171.12,404.50 177.93,408.50 184.74,415.00 191.55,418.00 198.36,412.50 205.17,419.70 211.98,412.00 218.79,411.30 225.60,415.90 232.41,413.60 239.22,407.50 249.43,430.40 263.06,428.60 276.68,469.20 290.30,477.00 303.92,474.00 320.94,486.00 348.18,511.00" fill="none" stroke="#1a9ec8" stroke-width="1.2" stroke-dasharray="4,2,1,2"/><path d="M205.17,417.90V421.50M203.67,417.90h3M203.67,421.50h3" stroke="#1a9ec8" stroke-width="1" fill="none"/><path d="M211.98,410.20V413.80M210.48,410.20h3M210.48,413.80h3" stroke="#1a9ec8" stroke-width="1" fill="none"/><path d="M218.79,409.30V413.30M217.29,409.30h3M217.29,413.30h3" stroke="#1a9ec8" stroke-width="1" fill="none"/><path d="M225.60,413.90V417.90M224.10,413.90h3M224.10,417.90h3" stroke="#1a9ec8" stroke-width="1" fill="none"/><path d="M232.41,411.60V415.60M230.91,411.60h3M230.91,415.60h3" stroke="#1a9ec8" stroke-width="1" fill="none"/><path d="M239.22,405.30V409.70M237.72,405.30h3M237.72,409.70h3" stroke="#1a9ec8" stroke-width="1" fill="none"/><path d="M249.43,427.40V433.40M247.93,427.40h3M247.93,433.40h3" stroke="#1a9ec8" stroke-width="1" fill="none"/><path d="M263.06,425.60V431.60M261.56,425.60h3M261.56,431.60h3" stroke="#1a9ec8" stroke-width="1" fill="none"/><path d="M276.68,465.70V472.70M275.18,465.70h3M275.18,472.70h3" stroke="#1a9ec8" stroke-width="1" fill="none"/><path d="M290.30,472.50V481.50M288.80,472.50h3M288.80,481.50h3" stroke="#1a9ec8" stroke-width="1" fill="none"/><path d="M303.92,469.00V479.00M302.42,469.00h3M302.42,479.00h3" stroke="#1a9ec8" stroke-width="1" fill="none"/><path d="M320.94,481.50V490.50M319.44,481.50h3M319.44,490.50h3" stroke="#1a9ec8" stroke-width="1" fill="none"/><path d="M348.18,505.50V516.50M346.68,505.50h3M346.68,516.50h3" stroke="#1a9ec8" stroke-width="1" fill="none"/><path d="M55.35,345.44L58.35,340.04L52.35,340.04Z" fill="#1a9ec8"/><path d="M62.16,367.64L65.16,362.24L59.16,362.24Z" fill="#1a9ec8"/><path d="M68.97,373.24L71.97,367.84L65.97,367.84Z" fill="#1a9ec8"/><path d="M75.78,371.44L78.78,366.04L72.78,366.04Z" fill="#1a9ec8"/><path d="M82.59,379.04L85.59,373.64L79.59,373.64Z" fill="#1a9ec8"/><path d="M89.40,390.04L92.40,384.64L86.40,384.64Z" fill="#1a9ec8"/><path d="M96.21,388.34L99.21,382.94L93.21,382.94Z" fill="#1a9ec8"/><path d="M103.02,392.94L106.02,387.54L100.02,387.54Z" fill="#1a9ec8"/><path d="M109.83,390.04L112.83,384.64L106.83,384.64Z" fill="#1a9ec8"/><path d="M116.64,408.04L119.64,402.64L113.64,402.64Z" fill="#1a9ec8"/><path d="M123.45,396.04L126.45,390.64L120.45,390.64Z" fill="#1a9ec8"/><path d="M130.26,404.54L133.26,399.14L127.26,399.14Z" fill="#1a9ec8"/><path d="M137.07,383.44L140.07,378.04L134.07,378.04Z" fill="#1a9ec8"/><path d="M143.88,394.24L146.88,388.84L140.88,388.84Z" fill="#1a9ec8"/><path d="M150.69,384.54L153.69,379.14L147.69,379.14Z" fill="#1a9ec8"/><path d="M157.50,404.24L160.50,398.84L154.50,398.84Z" fill="#1a9ec8"/><path d="M164.31,409.04L167.31,403.64L161.31,403.64Z" fill="#1a9ec8"/><path d="M171.12,407.74L174.12,402.34L168.12,402.34Z" fill="#1a9ec8"/><path d="M177.93,411.74L180.93,406.34L174.93,406.34Z" fill="#1a9ec8"/><path d="M184.74,418.24L187.74,412.84L181.74,412.84Z" fill="#1a9ec8"/><path d="M191.55,421.24L194.55,415.84L188.55,415.84Z" fill="#1a9ec8"/><path d="M198.36,415.74L201.36,410.34L195.36,410.34Z" fill="#1a9ec8"/><path d="M205.17,422.94L208.17,417.54L202.17,417.54Z" fill="#1a9ec8"/><path d="M211.98,415.24L214.98,409.84L208.98,409.84Z" fill="#1a9ec8"/><path d="M218.79,414.54L221.79,409.14L215.79,409.14Z" fill="#1a9ec8"/><path d="M225.60,419.14L228.60,413.74L222.60,413.74Z" fill="#1a9ec8"/><path d="M232.41,416.84L235.41,411.44L229.41,411.44Z" fill="#1a9ec8"/><path d="M239.22,410.74L242.22,405.34L236.22,405.34Z" fill="#1a9ec8"/><path d="M249.43,433.64L252.43,428.24L246.43,428.24Z" fill="#1a9ec8"/><path d="M263.06,431.84L266.06,426.44L260.06,426.44Z" fill="#1a9ec8"/><path d="M276.68,472.44L279.68,467.04L273.68,467.04Z" fill="#1a9ec8"/><path d="M290.30,480.24L293.30,474.84L287.30,474.84Z" fill="#1a9ec8"/><path d="M303.92,477.24L306.92,471.84L300.92,471.84Z" fill="#1a9ec8"/><polyline points="55.35,178.86 62.16,229.67 68.97,261.20 75.78,282.71 82.59,320.55 89.40,349.85 96.21,371.74 103.02,393.99 109.83,406.60 116.64,442.21 123.45,447.40 130.26,469.66 137.07,464.09 143.88,485.61 150.69,491.17 157.50,507.12 164.31,529.01 171.12,532.71 177.93,553.12 184.74,560.16 191.55,564.61 198.36,579.45 205.17,582.79 211.98,573.89 218.79,580.56 225.60,578.34 232.41,584.64 239.22,578.71 249.43,600.59 263.06,584.27 276.68,626.93 290.30,638.43 303.92,621.36 320.94,626.93 348.18,641.77" fill="none" stroke="#ff0000" stroke-width="1.1" stroke-dasharray="1,1.2"/><path d="M82.59,317.35L84.69,320.55L82.59,323.75L80.49,320.55Z" fill="#ff0000"/><path d="M89.40,346.65L91.50,349.85L89.40,353.05L87.30,349.85Z" fill="#ff0000"/><path d="M96.21,368.54L98.31,371.74L96.21,374.94L94.11,371.74Z" fill="#ff0000"/><path d="M103.02,390.79L105.12,393.99L103.02,397.19L100.92,393.99Z" fill="#ff0000"/><path d="M109.83,403.40L111.93,406.60L109.83,409.80L107.73,406.60Z" fill="#ff0000"/><path d="M116.64,439.01L118.74,442.21L116.64,445.41L114.54,442.21Z" fill="#ff0000"/><path d="M123.45,444.20L125.55,447.40L123.45,450.60L121.35,447.40Z" fill="#ff0000"/><path d="M130.26,466.46L132.36,469.66L130.26,472.86L128.16,469.66Z" fill="#ff0000"/><path d="M137.07,460.89L139.17,464.09L137.07,467.29L134.97,464.09Z" fill="#ff0000"/></g>
<g><line x1="48.38" y1="17.50" x2="48.38" y2="19.50" stroke="#000" stroke-width="1"/><line x1="48.38" y1="317.50" x2="48.38" y2="315.50" stroke="#000" stroke-width="1"/><line x1="48.38" y1="317.50" x2="48.38" y2="319.10" stroke="#000" stroke-width="1"/><line x1="48.38" y1="477.50" x2="48.38" y2="475.90" stroke="#000" stroke-width="1"/><line x1="55.50" y1="17.50" x2="55.50" y2="25.50" stroke="#000" stroke-width="1"/><line x1="55.50" y1="317.50" x2="55.50" y2="309.50" stroke="#000" stroke-width="1"/><line x1="55.50" y1="317.50" x2="55.50" y2="322.50" stroke="#000" stroke-width="1"/><line x1="55.50" y1="477.50" x2="55.50" y2="472.50" stroke="#000" stroke-width="1"/><line x1="62.62" y1="17.50" x2="62.62" y2="19.50" stroke="#000" stroke-width="1"/><line x1="62.62" y1="317.50" x2="62.62" y2="315.50" stroke="#000" stroke-width="1"/><line x1="62.62" y1="317.50" x2="62.62" y2="319.10" stroke="#000" stroke-width="1"/><line x1="62.62" y1="477.50" x2="62.62" y2="475.90" stroke="#000" stroke-width="1"/><line x1="69.75" y1="17.50" x2="69.75" y2="21.50" stroke="#000" stroke-width="1"/><line x1="69.75" y1="317.50" x2="69.75" y2="313.50" stroke="#000" stroke-width="1"/><line x1="69.75" y1="317.50" x2="69.75" y2="320.00" stroke="#000" stroke-width="1"/><line x1="69.75" y1="477.50" x2="69.75" y2="475.00" stroke="#000" stroke-width="1"/><line x1="76.88" y1="17.50" x2="76.88" y2="19.50" stroke="#000" stroke-width="1"/><line x1="76.88" y1="317.50" x2="76.88" y2="315.50" stroke="#000" stroke-width="1"/><line x1="76.88" y1="317.50" x2="76.88" y2="319.10" stroke="#000" stroke-width="1"/><line x1="76.88" y1="477.50" x2="76.88" y2="475.90" stroke="#000" stroke-width="1"/><line x1="84.00" y1="17.50" x2="84.00" y2="21.50" stroke="#000" stroke-width="1"/><line x1="84.00" y1="317.50" x2="84.00" y2="313.50" stroke="#000" stroke-width="1"/><line x1="84.00" y1="317.50" x2="84.00" y2="320.00" stroke="#000" stroke-width="1"/><line x1="84.00" y1="477.50" x2="84.00" y2="475.00" stroke="#000" stroke-width="1"/><line x1="91.12" y1="17.50" x2="91.12" y2="19.50" stroke="#000" stroke-width="1"/><line x1="91.12" y1="317.50" x2="91.12" y2="315.50" stroke="#000" stroke-width="1"/><line x1="91.12" y1="317.50" x2="91.12" y2="319.10" stroke="#000" stroke-width="1"/><line x1="91.12" y1="477.50" x2="91.12" y2="475.90" stroke="#000" stroke-width="1"/><line x1="98.25" y1="17.50" x2="98.25" y2="21.50" stroke="#000" stroke-width="1"/><line x1="98.25" y1="317.50" x2="98.25" y2="313.50" stroke="#000" stroke-width="1"/><line x1="98.25" y1="317.50" x2="98.25" y2="320.00" stroke="#000" stroke-width="1"/><line x1="98.25" y1="477.50" x2="98.25" y2="475.00" stroke="#000" stroke-width="1"/><line x1="105.38" y1="17.50" x2="105.38" y2="19.50" stroke="#000" stroke-width="1"/><line x1="105.38" y1="317.50" x2="105.38" y2="315.50" stroke="#000" stroke-width="1"/><line x1="105.38" y1="317.50" x2="105.38" y2="319.10" stroke="#000" stroke-width="1"/><line x1="105.38" y1="477.50" x2="105.38" y2="475.90" stroke="#000" stroke-width="1"/><line x1="112.50" y1="17.50" x2="112.50" y2="21.50" stroke="#000" stroke-width="1"/><line x1="112.50" y1="317.50" x2="112.50" y2="313.50" stroke="#000" stroke-width="1"/><line x1="112.50" y1="317.50" x2="112.50" y2="320.00" stroke="#000" stroke-width="1"/><line x1="112.50" y1="477.50" x2="112.50" y2="475.00" stroke="#000" stroke-width="1"/><line x1="119.62" y1="17.50" x2="119.62" y2="19.50" stroke="#000" stroke-width="1"/><line x1="119.62" y1="317.50" x2="119.62" y2="315.50" stroke="#000" stroke-width="1"/><line x1="119.62" y1="317.50" x2="119.62" y2="319.10" stroke="#000" stroke-width="1"/><line x1="119.62" y1="477.50" x2="119.62" y2="475.90" stroke="#000" stroke-width="1"/><line x1="126.75" y1="17.50" x2="126.75" y2="25.50" stroke="#000" stroke-width="1"/><line x1="126.75" y1="317.50" x2="126.75" y2="309.50" stroke="#000" stroke-width="1"/><line x1="126.75" y1="317.50" x2="126.75" y2="322.50" stroke="#000" stroke-width="1"/><line x1="126.75" y1="477.50" x2="126.75" y2="472.50" stroke="#000" stroke-width="1"/><line x1="133.88" y1="17.50" x2="133.88" y2="19.50" stroke="#000" stroke-width="1"/><line x1="133.88" y1="317.50" x2="133.88" y2="315.50" stroke="#000" stroke-width="1"/><line x1="133.88" y1="317.50" x2="133.88" y2="319.10" stroke="#000" stroke-width="1"/><line x1="133.88" y1="477.50" x2="133.88" y2="475.90" stroke="#000" stroke-width="1"/><line x1="141.00" y1="17.50" x2="141.00" y2="21.50" stroke="#000" stroke-width="1"/><line x1="141.00" y1="317.50" x2="141.00" y2="313.50" stroke="#000" stroke-width="1"/><line x1="141.00" y1="317.50" x2="141.00" y2="320.00" stroke="#000" stroke-width="1"/><line x1="141.00" y1="477.50" x2="141.00" y2="475.00" stroke="#000" stroke-width="1"/><line x1="148.12" y1="17.50" x2="148.12" y2="19.50" stroke="#000" stroke-width="1"/><line x1="148.12" y1="317.50" x2="148.12" y2="315.50" stroke="#000" stroke-width="1"/><line x1="148.12" y1="317.50" x2="148.12" y2="319.10" stroke="#000" stroke-width="1"/><line x1="148.12" y1="477.50" x2="148.12" y2="475.90" stroke="#000" stroke-width="1"/><line x1="155.25" y1="17.50" x2="155.25" y2="21.50" stroke="#000" stroke-width="1"/><line x1="155.25" y1="317.50" x2="155.25" y2="313.50" stroke="#000" stroke-width="1"/><line x1="155.25" y1="317.50" x2="155.25" y2="320.00" stroke="#000" stroke-width="1"/><line x1="155.25" y1="477.50" x2="155.25" y2="475.00" stroke="#000" stroke-width="1"/><line x1="162.38" y1="17.50" x2="162.38" y2="19.50" stroke="#000" stroke-width="1"/><line x1="162.38" y1="317.50" x2="162.38" y2="315.50" stroke="#000" stroke-width="1"/><line x1="162.38" y1="317.50" x2="162.38" y2="319.10" stroke="#000" stroke-width="1"/><line x1="162.38" y1="477.50" x2="162.38" y2="475.90" stroke="#000" stroke-width="1"/><line x1="169.50" y1="17.50" x2="169.50" y2="21.50" stroke="#000" stroke-width="1"/><line x1="169.50" y1="317.50" x2="169.50" y2="313.50" stroke="#000" stroke-width="1"/><line x1="169.50" y1="317.50" x2="169.50" y2="320.00" stroke="#000" stroke-width="1"/><line x1="169.50" y1="477.50" x2="169.50" y2="475.00" stroke="#000" stroke-width="1"/><line x1="176.62" y1="17.50" x2="176.62" y2="19.50" stroke="#000" stroke-width="1"/><line x1="176.62" y1="317.50" x2="176.62" y2="315.50" stroke="#000" stroke-width="1"/><line x1="176.62" y1="317.50" x2="176.62" y2="319.10" stroke="#000" stroke-width="1"/><line x1="176.62" y1="477.50" x2="176.62" y2="475.90" stroke="#000" stroke-width="1"/><line x1="183.75" y1="17.50" x2="183.75" y2="21.50" stroke="#000" stroke-width="1"/><line x1="183.75" y1="317.50" x2="183.75" y2="313.50" stroke="#000" stroke-width="1"/><line x1="183.75" y1="317.50" x2="183.75" y2="320.00" stroke="#000" stroke-width="1"/><line x1="183.75" y1="477.50" x2="183.75" y2="475.00" stroke="#000" stroke-width="1"/><line x1="190.88" y1="17.50" x2="190.88" y2="19.50" stroke="#000" stroke-width="1"/><line x1="190.88" y1="317.50" x2="190.88" y2="315.50" stroke="#000" stroke-width="1"/><line x1="190.88" y1="317.50" x2="190.88" y2="319.10" stroke="#000" stroke-width="1"/><line x1="190.88" y1="477.50" x2="190.88" y2="475.90" stroke="#000" stroke-width="1"/><line x1="198.00" y1="17.50" x2="198.00" y2="25.50" stroke="#000" stroke-width="1"/><line x1="198.00" y1="317.50" x2="198.00" y2="309.50" stroke="#000" stroke-width="1"/><line x1="198.00" y1="317.50" x2="198.00" y2="322.50" stroke="#000" stroke-width="1"/><line x1="198.00" y1="477.50" x2="198.00" y2="472.50" stroke="#000" stroke-width="1"/><line x1="205.12" y1="17.50" x2="205.12" y2="19.50" stroke="#000" stroke-width="1"/><line x1="205.12" y1="317.50" x2="205.12" y2="315.50" stroke="#000" stroke-width="1"/><line x1="205.12" y1="317.50" x2="205.12" y2="319.10" stroke="#000" stroke-width="1"/><line x1="205.12" y1="477.50" x2="205.12" y2="475.90" stroke="#000" stroke-width="1"/><line x1="212.25" y1="17.50" x2="212.25" y2="21.50" stroke="#000" stroke-width="1"/><line x1="212.25" y1="317.50" x2="212.25" y2="313.50" stroke="#000" stroke-width="1"/><line x1="212.25" y1="317.50" x2="212.25" y2="320.00" stroke="#000" stroke-width="1"/><line x1="212.25" y1="477.50" x2="212.25" y2="475.00" stroke="#000" stroke-width="1"/><line x1="219.38" y1="17.50" x2="219.38" y2="19.50" stroke="#000" stroke-width="1"/><line x1="219.38" y1="317.50" x2="219.38" y2="315.50" stroke="#000" stroke-width="1"/><line x1="219.38" y1="317.50" x2="219.38" y2="319.10" stroke="#000" stroke-width="1"/><line x1="219.38" y1="477.50" x2="219.38" y2="475.90" stroke="#000" stroke-width="1"/><line x1="226.50" y1="17.50" x2="226.50" y2="21.50" stroke="#000" stroke-width="1"/><line x1="226.50" y1="317.50" x2="226.50" y2="313.50" stroke="#000" stroke-width="1"/><line x1="226.50" y1="317.50" x2="226.50" y2="320.00" stroke="#000" stroke-width="1"/><line x1="226.50" y1="477.50" x2="226.50" y2="475.00" stroke="#000" stroke-width="1"/><line x1="233.62" y1="17.50" x2="233.62" y2="19.50" stroke="#000" stroke-width="1"/><line x1="233.62" y1="317.50" x2="233.62" y2="315.50" stroke="#000" stroke-width="1"/><line x1="233.62" y1="317.50" x2="233.62" y2="319.10" stroke="#000" stroke-width="1"/><line x1="233.62" y1="477.50" x2="233.62" y2="475.90" stroke="#000" stroke-width="1"/><line x1="240.75" y1="17.50" x2="240.75" y2="21.50" stroke="#000" stroke-width="1"/><line x1="240.75" y1="317.50" x2="240.75" y2="313.50" stroke="#000" stroke-width="1"/><line x1="240.75" y1="317.50" x2="240.75" y2="320.00" stroke="#000" stroke-width="1"/><line x1="240.75" y1="477.50" x2="240.75" y2="475.00" stroke="#000" stroke-width="1"/><line x1="247.88" y1="17.50" x2="247.88" y2="19.50" stroke="#000" stroke-width="1"/><line x1="247.88" y1="317.50" x2="247.88" y2="315.50" stroke="#000" stroke-width="1"/><line x1="247.88" y1="317.50" x2="247.88" y2="319.10" stroke="#000" stroke-width="1"/><line x1="247.88" y1="477.50" x2="247.88" y2="475.90" stroke="#000" stroke-width="1"/><line x1="255.00" y1="17.50" x2="255.00" y2="21.50" stroke="#000" stroke-width="1"/><line x1="255.00" y1="317.50" x2="255.00" y2="313.50" stroke="#000" stroke-width="1"/><line x1="255.00" y1="317.50" x2="255.00" y2="320.00" stroke="#000" stroke-width="1"/><line x1="255.00" y1="477.50" x2="255.00" y2="475.00" stroke="#000" stroke-width="1"/><line x1="262.12" y1="17.50" x2="262.12" y2="19.50" stroke="#000" stroke-width="1"/><line x1="262.12" y1="317.50" x2="262.12" y2="315.50" stroke="#000" stroke-width="1"/><line x1="262.12" y1="317.50" x2="262.12" y2="319.10" stroke="#000" stroke-width="1"/><line x1="262.12" y1="477.50" x2="262.12" y2="475.90" stroke="#000" stroke-width="1"/><line x1="269.25" y1="17.50" x2="269.25" y2="25.50" stroke="#000" stroke-width="1"/><line x1="269.25" y1="317.50" x2="269.25" y2="309.50" stroke="#000" stroke-width="1"/><line x1="269.25" y1="317.50" x2="269.25" y2="322.50" stroke="#000" stroke-width="1"/><line x1="269.25" y1="477.50" x2="269.25" y2="472.50" stroke="#000" stroke-width="1"/><line x1="276.38" y1="17.50" x2="276.38" y2="19.50" stroke="#000" stroke-width="1"/><line x1="276.38" y1="317.50" x2="276.38" y2="315.50" stroke="#000" stroke-width="1"/><line x1="276.38" y1="317.50" x2="276.38" y2="319.10" stroke="#000" stroke-width="1"/><line x1="276.38" y1="477.50" x2="276.38" y2="475.90" stroke="#000" stroke-width="1"/><line x1="283.50" y1="17.50" x2="283.50" y2="21.50" stroke="#000" stroke-width="1"/><line x1="283.50" y1="317.50" x2="283.50" y2="313.50" stroke="#000" stroke-width="1"/><line x1="283.50" y1="317.50" x2="283.50" y2="320.00" stroke="#000" stroke-width="1"/><line x1="283.50" y1="477.50" x2="283.50" y2="475.00" stroke="#000" stroke-width="1"/><line x1="290.62" y1="17.50" x2="290.62" y2="19.50" stroke="#000" stroke-width="1"/><line x1="290.62" y1="317.50" x2="290.62" y2="315.50" stroke="#000" stroke-width="1"/><line x1="290.62" y1="317.50" x2="290.62" y2="319.10" stroke="#000" stroke-width="1"/><line x1="290.62" y1="477.50" x2="290.62" y2="475.90" stroke="#000" stroke-width="1"/><line x1="297.75" y1="17.50" x2="297.75" y2="21.50" stroke="#000" stroke-width="1"/><line x1="297.75" y1="317.50" x2="297.75" y2="313.50" stroke="#000" stroke-width="1"/><line x1="297.75" y1="317.50" x2="297.75" y2="320.00" stroke="#000" stroke-width="1"/><line x1="297.75" y1="477.50" x2="297.75" y2="475.00" stroke="#000" stroke-width="1"/><line x1="304.88" y1="17.50" x2="304.88" y2="19.50" stroke="#000" stroke-width="1"/><line x1="304.88" y1="317.50" x2="304.88" y2="315.50" stroke="#000" stroke-width="1"/><line x1="304.88" y1="317.50" x2="304.88" y2="319.10" stroke="#000" stroke-width="1"/><line x1="304.88" y1="477.50" x2="304.88" y2="475.90" stroke="#000" stroke-width="1"/><line x1="312.00" y1="17.50" x2="312.00" y2="21.50" stroke="#000" stroke-width="1"/><line x1="312.00" y1="317.50" x2="312.00" y2="313.50" stroke="#000" stroke-width="1"/><line x1="312.00" y1="317.50" x2="312.00" y2="320.00" stroke="#000" stroke-width="1"/><line x1="312.00" y1="477.50" x2="312.00" y2="475.00" stroke="#000" stroke-width="1"/><line x1="319.12" y1="17.50" x2="319.12" y2="19.50" stroke="#000" stroke-width="1"/><line x1="319.12" y1="317.50" x2="319.12" y2="315.50" stroke="#000" stroke-width="1"/><line x1="319.12" y1="317.50" x2="319.12" y2="319.10" stroke="#000" stroke-width="1"/><line x1="319.12" y1="477.50" x2="319.12" y2="475.90" stroke="#000" stroke-width="1"/><line x1="326.25" y1="17.50" x2="326.25" y2="21.50" stroke="#000" stroke-width="1"/><line x1="326.25" y1="317.50" x2="326.25" y2="313.50" stroke="#000" stroke-width="1"/><line x1="326.25" y1="317.50" x2="326.25" y2="320.00" stroke="#000" stroke-width="1"/><line x1="326.25" y1="477.50" x2="326.25" y2="475.00" stroke="#000" stroke-width="1"/><line x1="333.38" y1="17.50" x2="333.38" y2="19.50" stroke="#000" stroke-width="1"/><line x1="333.38" y1="317.50" x2="333.38" y2="315.50" stroke="#000" stroke-width="1"/><line x1="333.38" y1="317.50" x2="333.38" y2="319.10" stroke="#000" stroke-width="1"/><line x1="333.38" y1="477.50" x2="333.38" y2="475.90" stroke="#000" stroke-width="1"/><line x1="340.50" y1="17.50" x2="340.50" y2="25.50" stroke="#000" stroke-width="1"/><line x1="340.50" y1="317.50" x2="340.50" y2="309.50" stroke="#000" stroke-width="1"/><line x1="340.50" y1="317.50" x2="340.50" y2="322.50" stroke="#000" stroke-width="1"/><line x1="340.50" y1="477.50" x2="340.50" y2="472.50" stroke="#000" stroke-width="1"/><line x1="347.62" y1="17.50" x2="347.62" y2="19.50" stroke="#000" stroke-width="1"/><line x1="347.62" y1="317.50" x2="347.62" y2="315.50" stroke="#000" stroke-width="1"/><line x1="347.62" y1="317.50" x2="347.62" y2="319.10" stroke="#000" stroke-width="1"/><line x1="347.62" y1="477.50" x2="347.62" y2="475.90" stroke="#000" stroke-width="1"/><line x1="354.75" y1="17.50" x2="354.75" y2="21.50" stroke="#000" stroke-width="1"/><line x1="354.75" y1="317.50" x2="354.75" y2="313.50" stroke="#000" stroke-width="1"/><line x1="354.75" y1="317.50" x2="354.75" y2="320.00" stroke="#000" stroke-width="1"/><line x1="354.75" y1="477.50" x2="354.75" y2="475.00" stroke="#000" stroke-width="1"/><line x1="361.88" y1="17.50" x2="361.88" y2="19.50" stroke="#000" stroke-width="1"/><line x1="361.88" y1="317.50" x2="361.88" y2="315.50" stroke="#000" stroke-width="1"/><line x1="361.88" y1="317.50" x2="361.88" y2="319.10" stroke="#000" stroke-width="1"/><line x1="361.88" y1="477.50" x2="361.88" y2="475.90" stroke="#000" stroke-width="1"/><line x1="369.00" y1="17.50" x2="369.00" y2="21.50" stroke="#000" stroke-width="1"/><line x1="369.00" y1="317.50" x2="369.00" y2="313.50" stroke="#000" stroke-width="1"/><line x1="369.00" y1="317.50" x2="369.00" y2="320.00" stroke="#000" stroke-width="1"/><line x1="369.00" y1="477.50" x2="369.00" y2="475.00" stroke="#000" stroke-width="1"/><line x1="45.50" y1="307.56" x2="50.50" y2="307.56" stroke="#000" stroke-width="1"/><line x1="371.50" y1="307.56" x2="366.50" y2="307.56" stroke="#000" stroke-width="1"/><line x1="45.50" y1="298.00" x2="50.50" y2="298.00" stroke="#000" stroke-width="1"/><line x1="371.50" y1="298.00" x2="366.50" y2="298.00" stroke="#000" stroke-width="1"/><line x1="45.50" y1="291.22" x2="50.50" y2="291.22" stroke="#000" stroke-width="1"/><line x1="371.50" y1="291.22" x2="366.50" y2="291.22" stroke="#000" stroke-width="1"/><line x1="45.50" y1="285.96" x2="50.50" y2="285.96" stroke="#000" stroke-width="1"/><line x1="371.50" y1="285.96" x2="366.50" y2="285.96" stroke="#000" stroke-width="1"/><line x1="45.50" y1="281.66" x2="50.50" y2="281.66" stroke="#000" stroke-width="1"/><line x1="371.50" y1="281.66" x2="366.50" y2="281.66" stroke="#000" stroke-width="1"/><line x1="45.50" y1="278.03" x2="50.50" y2="278.03" stroke="#000" stroke-width="1"/><line x1="371.50" y1="278.03" x2="366.50" y2="278.03" stroke="#000" stroke-width="1"/><line x1="45.50" y1="274.88" x2="50.50" y2="274.88" stroke="#000" stroke-width="1"/><line x1="371.50" y1="274.88" x2="366.50" y2="274.88" stroke="#000" stroke-width="1"/><line x1="45.50" y1="272.10" x2="50.50" y2="272.10" stroke="#000" stroke-width="1"/><line x1="371.50" y1="272.10" x2="366.50" y2="272.10" stroke="#000" stroke-width="1"/><line x1="45.50" y1="269.62" x2="56.50" y2="269.62" stroke="#000" stroke-width="1"/><line x1="371.50" y1="269.62" x2="360.50" y2="269.62" stroke="#000" stroke-width="1"/><line x1="45.50" y1="253.28" x2="50.50" y2="253.28" stroke="#000" stroke-width="1"/><line x1="371.50" y1="253.28" x2="366.50" y2="253.28" stroke="#000" stroke-width="1"/><line x1="45.50" y1="243.72" x2="50.50" y2="243.72" stroke="#000" stroke-width="1"/><line x1="371.50" y1="243.72" x2="366.50" y2="243.72" stroke="#000" stroke-width="1"/><line x1="45.50" y1="236.94" x2="50.50" y2="236.94" stroke="#000" stroke-width="1"/><line x1="371.50" y1="236.94" x2="366.50" y2="236.94" stroke="#000" stroke-width="1"/><line x1="45.50" y1="231.68" x2="50.50" y2="231.68" stroke="#000" stroke-width="1"/><line x1="371.50" y1="231.68" x2="366.50" y2="231.68" stroke="#000" stroke-width="1"/><line x1="45.50" y1="227.38" x2="50.50" y2="227.38" stroke="#000" stroke-width="1"/><line x1="371.50" y1="227.38" x2="366.50" y2="227.38" stroke="#000" stroke-width="1"/><line x1="45.50" y1="223.75" x2="50.50" y2="223.75" stroke="#000" stroke-width="1"/><line x1="371.50" y1="223.75" x2="366.50" y2="223.75" stroke="#000" stroke-width="1"/><line x1="45.50" y1="220.60" x2="50.50" y2="220.60" stroke="#000" stroke-width="1"/><line x1="371.50" y1="220.60" x2="366.50" y2="220.60" stroke="#000" stroke-width="1"/><line x1="45.50" y1="217.82" x2="50.50" y2="217.82" stroke="#000" stroke-width="1"/><line x1="371.50" y1="217.82" x2="366.50" y2="217.82" stroke="#000" stroke-width="1"/><line x1="45.50" y1="215.34" x2="56.50" y2="215.34" stroke="#000" stroke-width="1"/><line x1="371.50" y1="215.34" x2="360.50" y2="215.34" stroke="#000" stroke-width="1"/><line x1="45.50" y1="199.00" x2="50.50" y2="199.00" stroke="#000" stroke-width="1"/><line x1="371.50" y1="199.00" x2="366.50" y2="199.00" stroke="#000" stroke-width="1"/><line x1="45.50" y1="189.44" x2="50.50" y2="189.44" stroke="#000" stroke-width="1"/><line x1="371.50" y1="189.44" x2="366.50" y2="189.44" stroke="#000" stroke-width="1"/><line x1="45.50" y1="182.66" x2="50.50" y2="182.66" stroke="#000" stroke-width="1"/><line x1="371.50" y1="182.66" x2="366.50" y2="182.66" stroke="#000" stroke-width="1"/><line x1="45.50" y1="177.40" x2="50.50" y2="177.40" stroke="#000" stroke-width="1"/><line x1="371.50" y1="177.40" x2="366.50" y2="177.40" stroke="#000" stroke-width="1"/><line x1="45.50" y1="173.10" x2="50.50" y2="173.10" stroke="#000" stroke-width="1"/><line x1="371.50" y1="173.10" x2="366.50" y2="173.10" stroke="#000" stroke-width="1"/><line x1="45.50" y1="169.47" x2="50.50" y2="169.47" stroke="#000" stroke-width="1"/><line x1="371.50" y1="169.47" x2="366.50" y2="169.47" stroke="#000" stroke-width="1"/><line x1="45.50" y1="166.32" x2="50.50" y2="166.32" stroke="#000" stroke-width="1"/><line x1="371.50" y1="166.32" x2="366.50" y2="166.32" stroke="#000" stroke-width="1"/><line x1="45.50" y1="163.54" x2="50.50" y2="163.54" stroke="#000" stroke-width="1"/><line x1="371.50" y1="163.54" x2="366.50" y2="163.54" stroke="#000" stroke-width="1"/><line x1="45.50" y1="161.06" x2="56.50" y2="161.06" stroke="#000" stroke-width="1"/><line x1="371.50" y1="161.06" x2="360.50" y2="161.06" stroke="#000" stroke-width="1"/><line x1="45.50" y1="144.72" x2="50.50" y2="144.72" stroke="#000" stroke-width="1"/><line x1="371.50" y1="144.72" x2="366.50" y2="144.72" stroke="#000" stroke-width="1"/><line x1="45.50" y1="135.16" x2="50.50" y2="135.16" stroke="#000" stroke-width="1"/><line x1="371.50" y1="135.16" x2="366.50" y2="135.16" stroke="#000" stroke-width="1"/><line x1="45.50" y1="128.38" x2="50.50" y2="128.38" stroke="#000" stroke-width="1"/><line x1="371.50" y1="128.38" x2="366.50" y2="128.38" stroke="#000" stroke-width="1"/><line x1="45.50" y1="123.12" x2="50.50" y2="123.12" stroke="#000" stroke-width="1"/><line x1="371.50" y1="123.12" x2="366.50" y2="123.12" stroke="#000" stroke-width="1"/><line x1="45.50" y1="118.82" x2="50.50" y2="118.82" stroke="#000" stroke-width="1"/><line x1="371.50" y1="118.82" x2="366.50" y2="118.82" stroke="#000" stroke-width="1"/><line x1="45.50" y1="115.19" x2="50.50" y2="115.19" stroke="#000" stroke-width="1"/><line x1="371.50" y1="115.19" x2="366.50" y2="115.19" stroke="#000" stroke-width="1"/><line x1="45.50" y1="112.04" x2="50.50" y2="112.04" stroke="#000" stroke-width="1"/><line x1="371.50" y1="112.04" x2="366.50" y2="112.04" stroke="#000" stroke-width="1"/><line x1="45.50" y1="109.26" x2="50.50" y2="109.26" stroke="#000" stroke-width="1"/><line x1="371.50" y1="109.26" x2="366.50" y2="109.26" stroke="#000" stroke-width="1"/><line x1="45.50" y1="106.78" x2="56.50" y2="106.78" stroke="#000" stroke-width="1"/><line x1="371.50" y1="106.78" x2="360.50" y2="106.78" stroke="#000" stroke-width="1"/><line x1="45.50" y1="90.44" x2="50.50" y2="90.44" stroke="#000" stroke-width="1"/><line x1="371.50" y1="90.44" x2="366.50" y2="90.44" stroke="#000" stroke-width="1"/><line x1="45.50" y1="80.88" x2="50.50" y2="80.88" stroke="#000" stroke-width="1"/><line x1="371.50" y1="80.88" x2="366.50" y2="80.88" stroke="#000" stroke-width="1"/><line x1="45.50" y1="74.10" x2="50.50" y2="74.10" stroke="#000" stroke-width="1"/><line x1="371.50" y1="74.10" x2="366.50" y2="74.10" stroke="#000" stroke-width="1"/><line x1="45.50" y1="68.84" x2="50.50" y2="68.84" stroke="#000" stroke-width="1"/><line x1="371.50" y1="68.84" x2="366.50" y2="68.84" stroke="#000" stroke-width="1"/><line x1="45.50" y1="64.54" x2="50.50" y2="64.54" stroke="#000" stroke-width="1"/><line x1="371.50" y1="64.54" x2="366.50" y2="64.54" stroke="#000" stroke-width="1"/><line x1="45.50" y1="60.91" x2="50.50" y2="60.91" stroke="#000" stroke-width="1"/><line x1="371.50" y1="60.91" x2="366.50" y2="60.91" stroke="#000" stroke-width="1"/><line x1="45.50" y1="57.76" x2="50.50" y2="57.76" stroke="#000" stroke-width="1"/><line x1="371.50" y1="57.76" x2="366.50" y2="57.76" stroke="#000" stroke-width="1"/><line x1="45.50" y1="54.98" x2="50.50" y2="54.98" stroke="#000" stroke-width="1"/><line x1="371.50" y1="54.98" x2="366.50" y2="54.98" stroke="#000" stroke-width="1"/><line x1="45.50" y1="52.50" x2="56.50" y2="52.50" stroke="#000" stroke-width="1"/><line x1="371.50" y1="52.50" x2="360.50" y2="52.50" stroke="#000" stroke-width="1"/><line x1="45.50" y1="36.16" x2="50.50" y2="36.16" stroke="#000" stroke-width="1"/><line x1="371.50" y1="36.16" x2="366.50" y2="36.16" stroke="#000" stroke-width="1"/><line x1="45.50" y1="26.60" x2="50.50" y2="26.60" stroke="#000" stroke-width="1"/><line x1="371.50" y1="26.60" x2="366.50" y2="26.60" stroke="#000" stroke-width="1"/><line x1="45.50" y1="19.82" x2="50.50" y2="19.82" stroke="#000" stroke-width="1"/><line x1="371.50" y1="19.82" x2="366.50" y2="19.82" stroke="#000" stroke-width="1"/><line x1="45.50" y1="458.30" x2="52.50" y2="458.30" stroke="#000" stroke-width="1"/><line x1="371.50" y1="458.30" x2="364.50" y2="458.30" stroke="#000" stroke-width="1"/><line x1="45.50" y1="442.36" x2="50.50" y2="442.36" stroke="#000" stroke-width="1"/><line x1="371.50" y1="442.36" x2="366.50" y2="442.36" stroke="#000" stroke-width="1"/><line x1="45.50" y1="428.88" x2="50.50" y2="428.88" stroke="#000" stroke-width="1"/><line x1="371.50" y1="428.88" x2="366.50" y2="428.88" stroke="#000" stroke-width="1"/><line x1="45.50" y1="417.21" x2="50.50" y2="417.21" stroke="#000" stroke-width="1"/><line x1="371.50" y1="417.21" x2="366.50" y2="417.21" stroke="#000" stroke-width="1"/><line x1="45.50" y1="406.91" x2="50.50" y2="406.91" stroke="#000" stroke-width="1"/><line x1="371.50" y1="406.91" x2="366.50" y2="406.91" stroke="#000" stroke-width="1"/><line x1="45.50" y1="397.70" x2="52.50" y2="397.70" stroke="#000" stroke-width="1"/><line x1="371.50" y1="397.70" x2="364.50" y2="397.70" stroke="#000" stroke-width="1"/><line x1="45.50" y1="389.37" x2="50.50" y2="389.37" stroke="#000" stroke-width="1"/><line x1="371.50" y1="389.37" x2="366.50" y2="389.37" stroke="#000" stroke-width="1"/><line x1="45.50" y1="381.76" x2="50.50" y2="381.76" stroke="#000" stroke-width="1"/><line x1="371.50" y1="381.76" x2="366.50" y2="381.76" stroke="#000" stroke-width="1"/><line x1="45.50" y1="374.76" x2="50.50" y2="374.76" stroke="#000" stroke-width="1"/><line x1="371.50" y1="374.76" x2="366.50" y2="374.76" stroke="#000" stroke-width="1"/><line x1="45.50" y1="368.28" x2="50.50" y2="368.28" stroke="#000" stroke-width="1"/><line x1="371.50" y1="368.28" x2="366.50" y2="368.28" stroke="#000" stroke-width="1"/><line x1="45.50" y1="362.25" x2="50.50" y2="362.25" stroke="#000" stroke-width="1"/><line x1="371.50" y1="362.25" x2="366.50" y2="362.25" stroke="#000" stroke-width="1"/><line x1="45.50" y1="356.61" x2="50.50" y2="356.61" stroke="#000" stroke-width="1"/><line x1="371.50" y1="356.61" x2="366.50" y2="356.61" stroke="#000" stroke-width="1"/><line x1="45.50" y1="351.31" x2="50.50" y2="351.31" stroke="#000" stroke-width="1"/><line x1="371.50" y1="351.31" x2="366.50" y2="351.31" stroke="#000" stroke-width="1"/><line x1="45.50" y1="346.31" x2="50.50" y2="346.31" stroke="#000" stroke-width="1"/><line x1="371.50" y1="346.31" x2="366.50" y2="346.31" stroke="#000" stroke-width="1"/><line x1="45.50" y1="341.58" x2="50.50" y2="341.58" stroke="#000" stroke-width="1"/><line x1="371.50" y1="341.58" x2="366.50" y2="341.58" stroke="#000" stroke-width="1"/><line x1="45.50" y1="337.10" x2="52.50" y2="337.10" stroke="#000" stroke-width="1"/><line x1="371.50" y1="337.10" x2="364.50" y2="337.10" stroke="#000" stroke-width="1"/><line x1="45.50" y1="332.83" x2="50.50" y2="332.83" stroke="#000" stroke-width="1"/><line x1="371.50" y1="332.83" x2="366.50" y2="332.83" stroke="#000" stroke-width="1"/><line x1="45.50" y1="328.77" x2="50.50" y2="328.77" stroke="#000" stroke-width="1"/><line x1="371.50" y1="328.77" x2="366.50" y2="328.77" stroke="#000" stroke-width="1"/><line x1="45.50" y1="324.88" x2="50.50" y2="324.88" stroke="#000" stroke-width="1"/><line x1="371.50" y1="324.88" x2="366.50" y2="324.88" stroke="#000" stroke-width="1"/><line x1="45.50" y1="321.16" x2="50.50" y2="321.16" stroke="#000" stroke-width="1"/><line x1="371.50" y1="321.16" x2="366.50" y2="321.16" stroke="#000" stroke-width="1"/><line x1="45.50" y1="17.50" x2="371.50" y2="17.50" stroke="#000" stroke-width="1"/><line x1="45.50" y1="317.50" x2="371.50" y2="317.50" stroke="#000" stroke-width="1"/><line x1="45.00" y1="478.00" x2="372.00" y2="478.00" stroke="#000" stroke-width="2"/><line x1="45.50" y1="17.50" x2="45.50" y2="477.50" stroke="#000" stroke-width="1"/><line x1="371.50" y1="17.50" x2="371.50" y2="477.50" stroke="#000" stroke-width="1"/></g>
<text x="52" y="14.3" font-size="12" fill="#000" text-anchor="start" font-family="Liberation Sans, sans-serif" >13000 GeV pp</text>
<text x="365.5" y="14" font-size="12" fill="#000" text-anchor="end" font-family="Liberation Sans, sans-serif" >Z+Jet</text>
<text x="70.3" y="42.2" font-size="12" fill="#000" text-anchor="start" font-family="Liberation Sans, sans-serif" >Transverse region, 120 &lt; p</text>
<text x="212.5" y="35" font-size="8" font-family="Liberation Sans, sans-serif">Z</text>
<text x="211" y="48.3" font-size="8" font-family="Liberation Sans, sans-serif">T</text>
<text x="220" y="42.3" font-size="12" fill="#000" text-anchor="start" font-family="Liberation Sans, sans-serif" >&lt; 200 [GeV], high thrust</text>
<text x="40.3" y="56.9" font-size="10.6" fill="#000" text-anchor="end" font-family="Liberation Sans, sans-serif" >10</text>
<text x="39.3" y="110.7" font-size="10.6" fill="#000" text-anchor="end" font-family="Liberation Sans, sans-serif" >1</text>
<text x="33.3" y="166.86" font-size="10.6" fill="#000" text-anchor="end" font-family="Liberation Sans, sans-serif" >10</text>
<text x="33.3" y="161.76" font-size="6.8" fill="#000" text-anchor="start" font-family="Liberation Sans, sans-serif" >&#8722;1</text>
<text x="31.6" y="221.14000000000001" font-size="10.6" fill="#000" text-anchor="end" font-family="Liberation Sans, sans-serif" >10</text>
<text x="31.6" y="216.04" font-size="6.8" fill="#000" text-anchor="start" font-family="Liberation Sans, sans-serif" >&#8722;2</text>
<text x="31.6" y="275.42" font-size="10.6" fill="#000" text-anchor="end" font-family="Liberation Sans, sans-serif" >10</text>
<text x="31.6" y="270.32" font-size="6.8" fill="#000" text-anchor="start" font-family="Liberation Sans, sans-serif" >&#8722;3</text>
<text x="38.5" y="341.5" font-size="12" fill="#000" text-anchor="end" font-family="Liberation Sans, sans-serif" >2</text>
<text x="38.5" y="402.2" font-size="12" fill="#000" text-anchor="end" font-family="Liberation Sans, sans-serif" >1</text>
<text x="38.5" y="462.8" font-size="12" fill="#000" text-anchor="end" font-family="Liberation Sans, sans-serif" >0.5</text>
<text x="374" y="341.5" font-size="12" fill="#000" text-anchor="start" font-family="Liberation Sans, sans-serif" >2</text>
<text x="374" y="403.3" font-size="12" fill="#000" text-anchor="start" font-family="Liberation Sans, sans-serif" >1</text>
<text x="374" y="462.8" font-size="12" fill="#000" text-anchor="start" font-family="Liberation Sans, sans-serif" >0.5</text>
<text x="55.5" y="489.5" font-size="12" fill="#000" text-anchor="middle" font-family="Liberation Sans, sans-serif" >0</text>
<text x="126.75" y="489.5" font-size="12" fill="#000" text-anchor="middle" font-family="Liberation Sans, sans-serif" >1</text>
<text x="198.0" y="489.5" font-size="12" fill="#000" text-anchor="middle" font-family="Liberation Sans, sans-serif" >2</text>
<text x="269.25" y="489.5" font-size="12" fill="#000" text-anchor="middle" font-family="Liberation Sans, sans-serif" >3</text>
<text x="340.5" y="489.5" font-size="12" fill="#000" text-anchor="middle" font-family="Liberation Sans, sans-serif" >4</text>
<text x="318.8" y="502.8" font-size="11.7" font-family="Liberation Sans, sans-serif">N<tspan font-size="8.6" dy="3">ch</tspan><tspan dy="-3">/d&#951; d&#981;</tspan></text>
<text transform="translate(14.3,131.3) rotate(-90)" font-size="11" font-family="Liberation Sans, sans-serif">1/N<tspan font-size="7.7" dy="2.5">ev</tspan><tspan dy="-2.5"> dN</tspan><tspan font-size="7.7" dy="2.5">ev</tspan><tspan dy="-2.5">/dN</tspan><tspan font-size="7.7" dy="2.5">ch</tspan><tspan dy="-2.5">/d&#951; d&#981;</tspan></text>
<text transform="translate(19,427.6) rotate(-90)" font-size="9.2" font-family="Liberation Sans, sans-serif">Ratio to ATLAS</text>
<text transform="translate(380.2,127) rotate(-90)" font-size="9.5" fill="#6a6a6a" font-family="Liberation Sans, sans-serif">Rivet 4.1.0, &#8805; 3.6M events</text>
<text transform="translate(380.2,313) rotate(-90)" font-size="9.5" fill="#6a6a6a" font-family="Liberation Sans, sans-serif">mcplots.cern.ch [arXiv:2401.10621]</text>
<text x="163" y="301.5" font-size="8" fill="#a0a0a0" font-family="Liberation Sans, sans-serif">(ATLAS_2019_I1736531)</text>
<rect x="73.80" y="208.30" width="5.4" height="5.4" fill="#000"/>
<text x="94.4" y="214.1" font-size="9.3" fill="#000" text-anchor="start" font-family="Liberation Sans, sans-serif" >ATLAS</text>
<polyline points="64.00,223.80 89.00,223.80" fill="none" stroke="#b85c1a" stroke-width="1.1" stroke-dasharray="3,2"/>
<circle cx="76.50" cy="223.80" r="2.6" fill="none" stroke="#b85c1a" stroke-width="1.1"/>
<text x="94.4" y="226.70000000000002" font-size="9.3" fill="#000" text-anchor="start" font-family="Liberation Sans, sans-serif" >Herwig++ 2.7.1 default</text>
<polyline points="64.00,236.70 89.00,236.70" fill="none" stroke="#3c9c1c" stroke-width="1.1" stroke-dasharray="3,2"/>
<rect x="73.90" y="234.10" width="5.2" height="5.2" fill="none" stroke="#3c9c1c" stroke-width="0.95"/>
<text x="94.4" y="239.6" font-size="9.3" fill="#000" text-anchor="start" font-family="Liberation Sans, sans-serif" >Herwig 7.2.1 default</text>
<polyline points="64.00,250.20 89.00,250.20" fill="none" stroke="#0000e6" stroke-width="1.05"/>
<path d="M76.50,246.96L79.50,252.36L73.50,252.36Z" fill="#0000e6"/>
<text x="94.4" y="253.1" font-size="9.3" fill="#000" text-anchor="start" font-family="Liberation Sans, sans-serif" >Pythia 8.315 default</text>
<polyline points="64.00,263.10 89.00,263.10" fill="none" stroke="#1a9ec8" stroke-width="1.2" stroke-dasharray="4,2,1,2"/>
<path d="M76.50,266.34L79.50,260.94L73.50,260.94Z" fill="#1a9ec8"/>
<text x="94.4" y="266.0" font-size="9.3" fill="#000" text-anchor="start" font-family="Liberation Sans, sans-serif" >Pythia 8.315 vincia-default</text>
<polyline points="64.00,275.90 89.00,275.90" fill="none" stroke="#ff0000" stroke-width="1.1" stroke-dasharray="1,1.2"/>
<path d="M76.50,272.70L78.60,275.90L76.50,279.10L74.40,275.90Z" fill="#ff0000"/>
<text x="94.4" y="278.79999999999995" font-size="9.3" fill="#000" text-anchor="start" font-family="Liberation Sans, sans-serif" >Sherpa 2.2.9 default</text>
</svg></body></html>
